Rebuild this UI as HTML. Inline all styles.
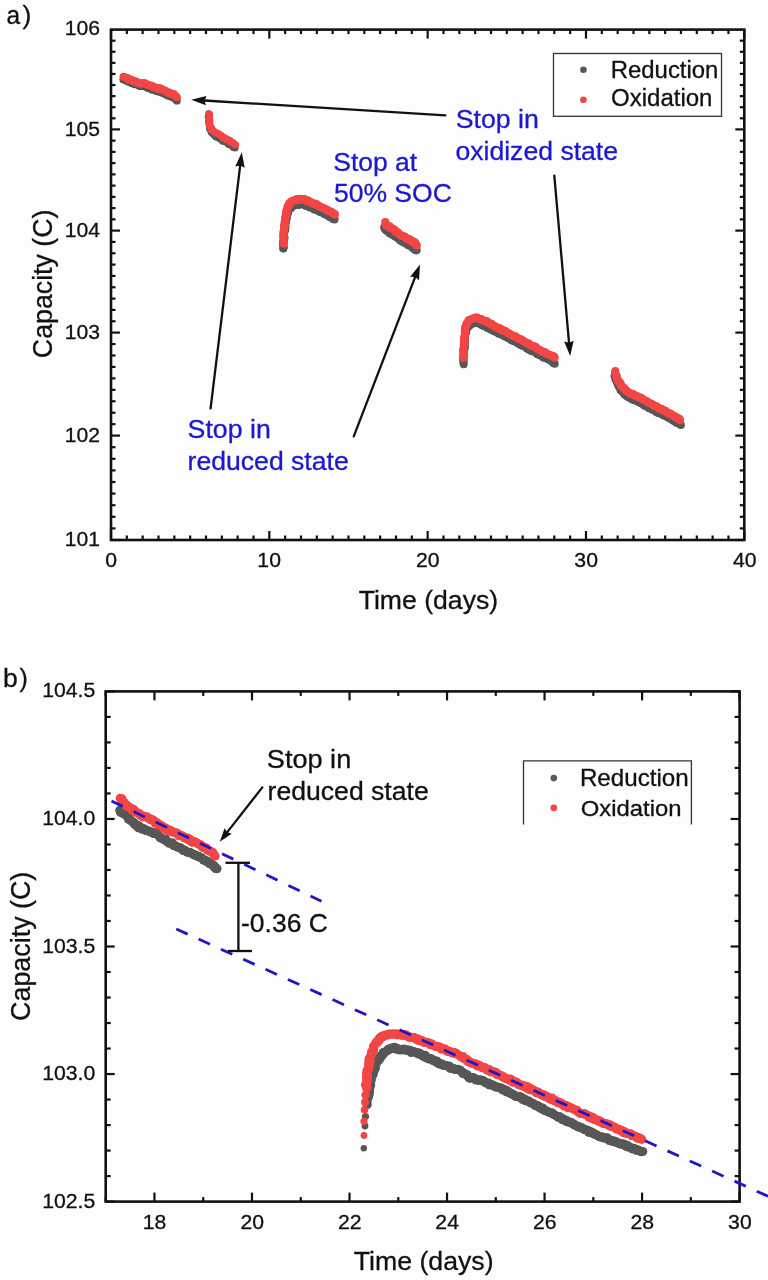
<!DOCTYPE html>
<html><head><meta charset="utf-8"><style>
html,body{margin:0;padding:0;background:#fdfdfd;}
svg{display:block;font-family:"Liberation Sans", sans-serif;filter:blur(0.35px);}
</style></head><body>
<svg width="768" height="1280" viewBox="0 0 768 1280">
<rect width="768" height="1280" fill="#fdfdfd"/>
<g stroke="#111" stroke-width="2.2"><line x1="111.00" y1="540.00" x2="111.00" y2="531.00"/><line x1="111.00" y1="29.60" x2="111.00" y2="38.60"/><line x1="126.83" y1="540.00" x2="126.83" y2="535.50"/><line x1="126.83" y1="29.60" x2="126.83" y2="34.10"/><line x1="142.66" y1="540.00" x2="142.66" y2="535.50"/><line x1="142.66" y1="29.60" x2="142.66" y2="34.10"/><line x1="158.50" y1="540.00" x2="158.50" y2="535.50"/><line x1="158.50" y1="29.60" x2="158.50" y2="34.10"/><line x1="174.33" y1="540.00" x2="174.33" y2="535.50"/><line x1="174.33" y1="29.60" x2="174.33" y2="34.10"/><line x1="190.16" y1="540.00" x2="190.16" y2="535.50"/><line x1="190.16" y1="29.60" x2="190.16" y2="34.10"/><line x1="206.00" y1="540.00" x2="206.00" y2="535.50"/><line x1="206.00" y1="29.60" x2="206.00" y2="34.10"/><line x1="221.83" y1="540.00" x2="221.83" y2="535.50"/><line x1="221.83" y1="29.60" x2="221.83" y2="34.10"/><line x1="237.66" y1="540.00" x2="237.66" y2="535.50"/><line x1="237.66" y1="29.60" x2="237.66" y2="34.10"/><line x1="253.49" y1="540.00" x2="253.49" y2="535.50"/><line x1="253.49" y1="29.60" x2="253.49" y2="34.10"/><line x1="269.32" y1="540.00" x2="269.32" y2="531.00"/><line x1="269.32" y1="29.60" x2="269.32" y2="38.60"/><line x1="285.16" y1="540.00" x2="285.16" y2="535.50"/><line x1="285.16" y1="29.60" x2="285.16" y2="34.10"/><line x1="300.99" y1="540.00" x2="300.99" y2="535.50"/><line x1="300.99" y1="29.60" x2="300.99" y2="34.10"/><line x1="316.82" y1="540.00" x2="316.82" y2="535.50"/><line x1="316.82" y1="29.60" x2="316.82" y2="34.10"/><line x1="332.65" y1="540.00" x2="332.65" y2="535.50"/><line x1="332.65" y1="29.60" x2="332.65" y2="34.10"/><line x1="348.49" y1="540.00" x2="348.49" y2="535.50"/><line x1="348.49" y1="29.60" x2="348.49" y2="34.10"/><line x1="364.32" y1="540.00" x2="364.32" y2="535.50"/><line x1="364.32" y1="29.60" x2="364.32" y2="34.10"/><line x1="380.15" y1="540.00" x2="380.15" y2="535.50"/><line x1="380.15" y1="29.60" x2="380.15" y2="34.10"/><line x1="395.99" y1="540.00" x2="395.99" y2="535.50"/><line x1="395.99" y1="29.60" x2="395.99" y2="34.10"/><line x1="411.82" y1="540.00" x2="411.82" y2="535.50"/><line x1="411.82" y1="29.60" x2="411.82" y2="34.10"/><line x1="427.65" y1="540.00" x2="427.65" y2="531.00"/><line x1="427.65" y1="29.60" x2="427.65" y2="38.60"/><line x1="443.48" y1="540.00" x2="443.48" y2="535.50"/><line x1="443.48" y1="29.60" x2="443.48" y2="34.10"/><line x1="459.31" y1="540.00" x2="459.31" y2="535.50"/><line x1="459.31" y1="29.60" x2="459.31" y2="34.10"/><line x1="475.15" y1="540.00" x2="475.15" y2="535.50"/><line x1="475.15" y1="29.60" x2="475.15" y2="34.10"/><line x1="490.98" y1="540.00" x2="490.98" y2="535.50"/><line x1="490.98" y1="29.60" x2="490.98" y2="34.10"/><line x1="506.81" y1="540.00" x2="506.81" y2="535.50"/><line x1="506.81" y1="29.60" x2="506.81" y2="34.10"/><line x1="522.64" y1="540.00" x2="522.64" y2="535.50"/><line x1="522.64" y1="29.60" x2="522.64" y2="34.10"/><line x1="538.48" y1="540.00" x2="538.48" y2="535.50"/><line x1="538.48" y1="29.60" x2="538.48" y2="34.10"/><line x1="554.31" y1="540.00" x2="554.31" y2="535.50"/><line x1="554.31" y1="29.60" x2="554.31" y2="34.10"/><line x1="570.14" y1="540.00" x2="570.14" y2="535.50"/><line x1="570.14" y1="29.60" x2="570.14" y2="34.10"/><line x1="585.98" y1="540.00" x2="585.98" y2="531.00"/><line x1="585.98" y1="29.60" x2="585.98" y2="38.60"/><line x1="601.81" y1="540.00" x2="601.81" y2="535.50"/><line x1="601.81" y1="29.60" x2="601.81" y2="34.10"/><line x1="617.64" y1="540.00" x2="617.64" y2="535.50"/><line x1="617.64" y1="29.60" x2="617.64" y2="34.10"/><line x1="633.47" y1="540.00" x2="633.47" y2="535.50"/><line x1="633.47" y1="29.60" x2="633.47" y2="34.10"/><line x1="649.30" y1="540.00" x2="649.30" y2="535.50"/><line x1="649.30" y1="29.60" x2="649.30" y2="34.10"/><line x1="665.14" y1="540.00" x2="665.14" y2="535.50"/><line x1="665.14" y1="29.60" x2="665.14" y2="34.10"/><line x1="680.97" y1="540.00" x2="680.97" y2="535.50"/><line x1="680.97" y1="29.60" x2="680.97" y2="34.10"/><line x1="696.80" y1="540.00" x2="696.80" y2="535.50"/><line x1="696.80" y1="29.60" x2="696.80" y2="34.10"/><line x1="712.63" y1="540.00" x2="712.63" y2="535.50"/><line x1="712.63" y1="29.60" x2="712.63" y2="34.10"/><line x1="728.47" y1="540.00" x2="728.47" y2="535.50"/><line x1="728.47" y1="29.60" x2="728.47" y2="34.10"/><line x1="744.30" y1="540.00" x2="744.30" y2="531.00"/><line x1="744.30" y1="29.60" x2="744.30" y2="38.60"/><line x1="111.00" y1="540.00" x2="120.00" y2="540.00"/><line x1="744.30" y1="540.00" x2="735.30" y2="540.00"/><line x1="111.00" y1="528.40" x2="115.50" y2="528.40"/><line x1="744.30" y1="528.40" x2="739.80" y2="528.40"/><line x1="111.00" y1="516.80" x2="115.50" y2="516.80"/><line x1="744.30" y1="516.80" x2="739.80" y2="516.80"/><line x1="111.00" y1="505.20" x2="115.50" y2="505.20"/><line x1="744.30" y1="505.20" x2="739.80" y2="505.20"/><line x1="111.00" y1="493.60" x2="115.50" y2="493.60"/><line x1="744.30" y1="493.60" x2="739.80" y2="493.60"/><line x1="111.00" y1="482.00" x2="115.50" y2="482.00"/><line x1="744.30" y1="482.00" x2="739.80" y2="482.00"/><line x1="111.00" y1="470.40" x2="115.50" y2="470.40"/><line x1="744.30" y1="470.40" x2="739.80" y2="470.40"/><line x1="111.00" y1="458.80" x2="115.50" y2="458.80"/><line x1="744.30" y1="458.80" x2="739.80" y2="458.80"/><line x1="111.00" y1="447.20" x2="115.50" y2="447.20"/><line x1="744.30" y1="447.20" x2="739.80" y2="447.20"/><line x1="111.00" y1="435.60" x2="120.00" y2="435.60"/><line x1="744.30" y1="435.60" x2="735.30" y2="435.60"/><line x1="111.00" y1="424.16" x2="115.50" y2="424.16"/><line x1="744.30" y1="424.16" x2="739.80" y2="424.16"/><line x1="111.00" y1="412.71" x2="115.50" y2="412.71"/><line x1="744.30" y1="412.71" x2="739.80" y2="412.71"/><line x1="111.00" y1="401.27" x2="115.50" y2="401.27"/><line x1="744.30" y1="401.27" x2="739.80" y2="401.27"/><line x1="111.00" y1="389.82" x2="115.50" y2="389.82"/><line x1="744.30" y1="389.82" x2="739.80" y2="389.82"/><line x1="111.00" y1="378.38" x2="115.50" y2="378.38"/><line x1="744.30" y1="378.38" x2="739.80" y2="378.38"/><line x1="111.00" y1="366.93" x2="115.50" y2="366.93"/><line x1="744.30" y1="366.93" x2="739.80" y2="366.93"/><line x1="111.00" y1="355.49" x2="115.50" y2="355.49"/><line x1="744.30" y1="355.49" x2="739.80" y2="355.49"/><line x1="111.00" y1="344.04" x2="115.50" y2="344.04"/><line x1="744.30" y1="344.04" x2="739.80" y2="344.04"/><line x1="111.00" y1="332.60" x2="120.00" y2="332.60"/><line x1="744.30" y1="332.60" x2="735.30" y2="332.60"/><line x1="111.00" y1="321.27" x2="115.50" y2="321.27"/><line x1="744.30" y1="321.27" x2="739.80" y2="321.27"/><line x1="111.00" y1="309.93" x2="115.50" y2="309.93"/><line x1="744.30" y1="309.93" x2="739.80" y2="309.93"/><line x1="111.00" y1="298.60" x2="115.50" y2="298.60"/><line x1="744.30" y1="298.60" x2="739.80" y2="298.60"/><line x1="111.00" y1="287.27" x2="115.50" y2="287.27"/><line x1="744.30" y1="287.27" x2="739.80" y2="287.27"/><line x1="111.00" y1="275.93" x2="115.50" y2="275.93"/><line x1="744.30" y1="275.93" x2="739.80" y2="275.93"/><line x1="111.00" y1="264.60" x2="115.50" y2="264.60"/><line x1="744.30" y1="264.60" x2="739.80" y2="264.60"/><line x1="111.00" y1="253.27" x2="115.50" y2="253.27"/><line x1="744.30" y1="253.27" x2="739.80" y2="253.27"/><line x1="111.00" y1="241.93" x2="115.50" y2="241.93"/><line x1="744.30" y1="241.93" x2="739.80" y2="241.93"/><line x1="111.00" y1="230.60" x2="120.00" y2="230.60"/><line x1="744.30" y1="230.60" x2="735.30" y2="230.60"/><line x1="111.00" y1="219.36" x2="115.50" y2="219.36"/><line x1="744.30" y1="219.36" x2="739.80" y2="219.36"/><line x1="111.00" y1="208.11" x2="115.50" y2="208.11"/><line x1="744.30" y1="208.11" x2="739.80" y2="208.11"/><line x1="111.00" y1="196.87" x2="115.50" y2="196.87"/><line x1="744.30" y1="196.87" x2="739.80" y2="196.87"/><line x1="111.00" y1="185.62" x2="115.50" y2="185.62"/><line x1="744.30" y1="185.62" x2="739.80" y2="185.62"/><line x1="111.00" y1="174.38" x2="115.50" y2="174.38"/><line x1="744.30" y1="174.38" x2="739.80" y2="174.38"/><line x1="111.00" y1="163.13" x2="115.50" y2="163.13"/><line x1="744.30" y1="163.13" x2="739.80" y2="163.13"/><line x1="111.00" y1="151.89" x2="115.50" y2="151.89"/><line x1="744.30" y1="151.89" x2="739.80" y2="151.89"/><line x1="111.00" y1="140.64" x2="115.50" y2="140.64"/><line x1="744.30" y1="140.64" x2="739.80" y2="140.64"/><line x1="111.00" y1="129.40" x2="120.00" y2="129.40"/><line x1="744.30" y1="129.40" x2="735.30" y2="129.40"/><line x1="111.00" y1="118.31" x2="115.50" y2="118.31"/><line x1="744.30" y1="118.31" x2="739.80" y2="118.31"/><line x1="111.00" y1="107.22" x2="115.50" y2="107.22"/><line x1="744.30" y1="107.22" x2="739.80" y2="107.22"/><line x1="111.00" y1="96.13" x2="115.50" y2="96.13"/><line x1="744.30" y1="96.13" x2="739.80" y2="96.13"/><line x1="111.00" y1="85.04" x2="115.50" y2="85.04"/><line x1="744.30" y1="85.04" x2="739.80" y2="85.04"/><line x1="111.00" y1="73.96" x2="115.50" y2="73.96"/><line x1="744.30" y1="73.96" x2="739.80" y2="73.96"/><line x1="111.00" y1="62.87" x2="115.50" y2="62.87"/><line x1="744.30" y1="62.87" x2="739.80" y2="62.87"/><line x1="111.00" y1="51.78" x2="115.50" y2="51.78"/><line x1="744.30" y1="51.78" x2="739.80" y2="51.78"/><line x1="111.00" y1="40.69" x2="115.50" y2="40.69"/><line x1="744.30" y1="40.69" x2="739.80" y2="40.69"/></g>
<rect x="111.0" y="29.6" width="633.3" height="510.4" fill="none" stroke="#111" stroke-width="2.6"/>
<text transform="translate(100.10,545.80) scale(1.0060,1)" font-size="21" text-anchor="end" fill="#111" stroke="#111" stroke-width="0.3">101</text>
<text transform="translate(100.10,442.40) scale(1.0060,1)" font-size="21" text-anchor="end" fill="#111" stroke="#111" stroke-width="0.3">102</text>
<text transform="translate(100.10,338.60) scale(1.0060,1)" font-size="21" text-anchor="end" fill="#111" stroke="#111" stroke-width="0.3">103</text>
<text transform="translate(100.10,236.90) scale(1.0060,1)" font-size="21" text-anchor="end" fill="#111" stroke="#111" stroke-width="0.3">104</text>
<text transform="translate(100.10,135.50) scale(1.0060,1)" font-size="21" text-anchor="end" fill="#111" stroke="#111" stroke-width="0.3">105</text>
<text transform="translate(100.10,34.90) scale(1.0060,1)" font-size="21" text-anchor="end" fill="#111" stroke="#111" stroke-width="0.3">106</text>
<text transform="translate(105.27,567.00) scale(1.0100,1)" font-size="21" fill="#111" stroke="#111" stroke-width="0.3">0</text>
<text transform="translate(257.34,567.00) scale(1.0100,1)" font-size="21" fill="#111" stroke="#111" stroke-width="0.3">10</text>
<text transform="translate(415.98,567.00) scale(1.0100,1)" font-size="21" fill="#111" stroke="#111" stroke-width="0.3">20</text>
<text transform="translate(574.37,567.00) scale(1.0100,1)" font-size="21" fill="#111" stroke="#111" stroke-width="0.3">30</text>
<text transform="translate(732.88,567.00) scale(1.0100,1)" font-size="21" fill="#111" stroke="#111" stroke-width="0.3">40</text>
<text transform="translate(358.67,608.90) scale(1.0049,1)" font-size="26.5" fill="#111" stroke="#111" stroke-width="0.3">Time (days)</text>
<text transform="translate(52.00,358.19) rotate(-90) scale(1.0099,1.045)" font-size="26.5" fill="#111" stroke="#111" stroke-width="0.3">Capacity (C)</text>
<text transform="translate(6.54,24.00) scale(0.9421,1)" font-size="26" fill="#111" stroke="#111" stroke-width="0.3">a</text>
<text transform="translate(22.54,24.00) scale(1.0222,1)" font-size="26" fill="#111" stroke="#111" stroke-width="0.3">)</text>
<g fill="#575757"><circle cx="123.3" cy="79.4" r="3.9"/><circle cx="125.2" cy="79.8" r="3.9"/><circle cx="126.5" cy="80.6" r="3.9"/><circle cx="127.5" cy="81.3" r="3.9"/><circle cx="128.7" cy="81.7" r="3.9"/><circle cx="130.0" cy="81.8" r="3.9"/><circle cx="131.7" cy="83.2" r="3.9"/><circle cx="132.5" cy="83.0" r="3.9"/><circle cx="134.4" cy="84.3" r="3.9"/><circle cx="135.5" cy="84.2" r="3.9"/><circle cx="137.2" cy="84.3" r="3.9"/><circle cx="138.2" cy="85.0" r="3.9"/><circle cx="138.6" cy="85.3" r="3.9"/><circle cx="140.1" cy="86.2" r="3.9"/><circle cx="141.3" cy="85.9" r="3.9"/><circle cx="143.2" cy="85.6" r="3.9"/><circle cx="144.3" cy="85.8" r="3.9"/><circle cx="145.0" cy="86.4" r="3.9"/><circle cx="147.0" cy="87.2" r="3.9"/><circle cx="147.8" cy="87.9" r="3.9"/><circle cx="149.1" cy="88.0" r="3.9"/><circle cx="150.8" cy="88.8" r="3.9"/><circle cx="151.3" cy="89.1" r="3.9"/><circle cx="152.8" cy="89.9" r="3.9"/><circle cx="154.3" cy="89.5" r="3.9"/><circle cx="155.8" cy="89.7" r="3.9"/><circle cx="156.3" cy="90.9" r="3.9"/><circle cx="157.2" cy="91.0" r="3.9"/><circle cx="158.2" cy="91.6" r="3.9"/><circle cx="160.3" cy="91.9" r="3.9"/><circle cx="161.7" cy="92.1" r="3.9"/><circle cx="162.7" cy="92.9" r="3.9"/><circle cx="163.8" cy="93.2" r="3.9"/><circle cx="165.4" cy="94.3" r="3.9"/><circle cx="166.2" cy="94.5" r="3.9"/><circle cx="167.0" cy="95.0" r="3.9"/><circle cx="168.9" cy="95.9" r="3.9"/><circle cx="170.4" cy="95.5" r="3.9"/><circle cx="171.0" cy="96.5" r="3.9"/><circle cx="171.7" cy="96.8" r="3.9"/><circle cx="173.0" cy="96.8" r="3.9"/><circle cx="174.0" cy="98.1" r="3.9"/><circle cx="175.3" cy="98.7" r="3.9"/><circle cx="176.9" cy="100.7" r="3.9"/></g>
<g fill="#575757"><circle cx="208.3" cy="116.9" r="3.6"/><circle cx="208.9" cy="118.7" r="3.6"/><circle cx="209.3" cy="119.9" r="3.6"/><circle cx="208.8" cy="120.6" r="3.6"/><circle cx="209.0" cy="122.3" r="3.6"/><circle cx="209.7" cy="122.7" r="3.6"/><circle cx="209.1" cy="124.1" r="3.6"/><circle cx="209.4" cy="125.8" r="3.6"/><circle cx="210.1" cy="126.9" r="3.6"/><circle cx="209.6" cy="128.4" r="3.6"/><circle cx="210.4" cy="129.7" r="3.6"/><circle cx="211.5" cy="131.0" r="3.6"/><circle cx="211.3" cy="132.1" r="3.6"/><circle cx="211.9" cy="132.6" r="3.6"/><circle cx="213.4" cy="134.3" r="3.6"/><circle cx="214.5" cy="135.2" r="3.6"/><circle cx="215.1" cy="135.6" r="3.6"/><circle cx="215.9" cy="136.8" r="3.6"/><circle cx="217.1" cy="136.8" r="3.6"/><circle cx="218.4" cy="137.6" r="3.6"/><circle cx="219.7" cy="138.2" r="3.6"/><circle cx="220.5" cy="139.0" r="3.6"/><circle cx="221.8" cy="139.9" r="3.6"/><circle cx="222.9" cy="141.2" r="3.6"/><circle cx="224.8" cy="141.1" r="3.6"/><circle cx="225.5" cy="142.0" r="3.6"/><circle cx="226.8" cy="142.4" r="3.6"/><circle cx="228.5" cy="144.2" r="3.6"/><circle cx="229.2" cy="144.3" r="3.6"/><circle cx="230.0" cy="144.5" r="3.6"/><circle cx="231.5" cy="145.4" r="3.6"/><circle cx="233.2" cy="145.9" r="3.6"/><circle cx="233.4" cy="147.5" r="3.6"/><circle cx="235.0" cy="147.9" r="3.6"/></g>
<g fill="#575757"><circle cx="283.3" cy="248.4" r="4.0"/><circle cx="283.3" cy="248.2" r="4.0"/><circle cx="283.8" cy="246.4" r="4.0"/><circle cx="283.2" cy="244.6" r="4.0"/><circle cx="283.1" cy="243.7" r="4.0"/><circle cx="283.6" cy="242.3" r="4.0"/><circle cx="283.5" cy="240.4" r="4.0"/><circle cx="284.2" cy="240.0" r="4.0"/><circle cx="284.3" cy="238.5" r="4.0"/><circle cx="284.4" cy="237.2" r="4.0"/><circle cx="283.8" cy="235.6" r="4.0"/><circle cx="284.1" cy="233.6" r="4.0"/><circle cx="283.8" cy="232.5" r="4.0"/><circle cx="284.2" cy="231.6" r="4.0"/><circle cx="285.2" cy="229.9" r="4.0"/><circle cx="285.3" cy="229.1" r="4.0"/><circle cx="285.5" cy="227.0" r="4.0"/><circle cx="284.7" cy="225.6" r="4.0"/><circle cx="284.9" cy="224.2" r="4.0"/><circle cx="285.5" cy="223.8" r="4.0"/><circle cx="285.9" cy="222.0" r="4.0"/><circle cx="285.9" cy="221.1" r="4.0"/><circle cx="285.5" cy="219.7" r="4.0"/><circle cx="286.7" cy="218.6" r="4.0"/><circle cx="286.8" cy="217.0" r="4.0"/><circle cx="286.4" cy="215.9" r="4.0"/><circle cx="287.0" cy="214.6" r="4.0"/><circle cx="288.1" cy="212.7" r="4.0"/><circle cx="288.0" cy="211.9" r="4.0"/><circle cx="289.1" cy="209.5" r="4.0"/><circle cx="289.1" cy="208.1" r="4.0"/><circle cx="291.2" cy="207.9" r="4.0"/><circle cx="291.4" cy="206.9" r="4.0"/><circle cx="293.6" cy="205.7" r="4.0"/><circle cx="294.2" cy="205.2" r="4.0"/><circle cx="295.2" cy="204.3" r="4.0"/><circle cx="297.6" cy="204.7" r="4.0"/><circle cx="298.4" cy="204.9" r="4.0"/><circle cx="299.6" cy="204.6" r="4.0"/><circle cx="301.4" cy="203.7" r="4.0"/><circle cx="302.0" cy="203.7" r="4.0"/><circle cx="303.3" cy="204.5" r="4.0"/><circle cx="304.7" cy="204.8" r="4.0"/><circle cx="305.9" cy="206.0" r="4.0"/><circle cx="307.5" cy="205.9" r="4.0"/><circle cx="309.1" cy="207.0" r="4.0"/><circle cx="310.1" cy="207.5" r="4.0"/><circle cx="311.3" cy="207.6" r="4.0"/><circle cx="312.5" cy="207.5" r="4.0"/><circle cx="313.6" cy="208.2" r="4.0"/><circle cx="314.2" cy="209.4" r="4.0"/><circle cx="315.6" cy="209.6" r="4.0"/><circle cx="317.4" cy="210.2" r="4.0"/><circle cx="318.1" cy="210.8" r="4.0"/><circle cx="319.6" cy="211.6" r="4.0"/><circle cx="320.2" cy="211.9" r="4.0"/><circle cx="321.5" cy="212.2" r="4.0"/><circle cx="323.3" cy="213.0" r="4.0"/><circle cx="324.2" cy="213.9" r="4.0"/><circle cx="325.7" cy="214.1" r="4.0"/><circle cx="326.5" cy="214.8" r="4.0"/><circle cx="327.5" cy="215.6" r="4.0"/><circle cx="328.5" cy="216.0" r="4.0"/><circle cx="329.7" cy="217.1" r="4.0"/><circle cx="331.0" cy="217.6" r="4.0"/><circle cx="332.4" cy="217.5" r="4.0"/><circle cx="333.0" cy="218.9" r="4.0"/><circle cx="334.3" cy="218.5" r="4.0"/><circle cx="334.5" cy="219.4" r="4.0"/></g>
<g fill="#575757"><circle cx="384.3" cy="227.4" r="4.1"/><circle cx="384.9" cy="229.0" r="4.1"/><circle cx="386.3" cy="230.3" r="4.1"/><circle cx="386.6" cy="230.8" r="4.1"/><circle cx="388.2" cy="230.9" r="4.1"/><circle cx="389.5" cy="232.6" r="4.1"/><circle cx="389.8" cy="233.4" r="4.1"/><circle cx="391.1" cy="233.6" r="4.1"/><circle cx="392.9" cy="234.8" r="4.1"/><circle cx="393.0" cy="235.1" r="4.1"/><circle cx="394.5" cy="235.7" r="4.1"/><circle cx="395.2" cy="236.4" r="4.1"/><circle cx="396.9" cy="236.7" r="4.1"/><circle cx="397.8" cy="237.9" r="4.1"/><circle cx="398.3" cy="238.5" r="4.1"/><circle cx="400.1" cy="239.4" r="4.1"/><circle cx="400.5" cy="240.7" r="4.1"/><circle cx="402.4" cy="241.3" r="4.1"/><circle cx="402.7" cy="241.1" r="4.1"/><circle cx="403.7" cy="242.4" r="4.1"/><circle cx="405.1" cy="242.3" r="4.1"/><circle cx="406.4" cy="243.8" r="4.1"/><circle cx="408.0" cy="243.7" r="4.1"/><circle cx="408.2" cy="245.2" r="4.1"/><circle cx="409.8" cy="245.5" r="4.1"/><circle cx="410.3" cy="245.4" r="4.1"/><circle cx="412.1" cy="246.5" r="4.1"/><circle cx="412.4" cy="247.8" r="4.1"/><circle cx="414.2" cy="248.3" r="4.1"/><circle cx="414.4" cy="249.2" r="4.1"/><circle cx="415.3" cy="250.1" r="4.1"/><circle cx="416.6" cy="250.3" r="4.1"/></g>
<g fill="#575757"><circle cx="463.7" cy="364.2" r="4.0"/><circle cx="463.3" cy="361.9" r="4.0"/><circle cx="463.7" cy="360.6" r="4.0"/><circle cx="463.2" cy="359.2" r="4.0"/><circle cx="463.2" cy="357.8" r="4.0"/><circle cx="463.5" cy="356.7" r="4.0"/><circle cx="464.1" cy="355.4" r="4.0"/><circle cx="463.9" cy="354.1" r="4.0"/><circle cx="463.7" cy="352.6" r="4.0"/><circle cx="463.7" cy="351.3" r="4.0"/><circle cx="464.3" cy="350.6" r="4.0"/><circle cx="463.8" cy="349.2" r="4.0"/><circle cx="464.8" cy="347.4" r="4.0"/><circle cx="464.7" cy="346.5" r="4.0"/><circle cx="464.4" cy="345.6" r="4.0"/><circle cx="464.4" cy="343.8" r="4.0"/><circle cx="464.9" cy="343.0" r="4.0"/><circle cx="464.6" cy="341.4" r="4.0"/><circle cx="465.1" cy="339.8" r="4.0"/><circle cx="464.9" cy="338.0" r="4.0"/><circle cx="464.6" cy="336.6" r="4.0"/><circle cx="464.8" cy="336.1" r="4.0"/><circle cx="465.2" cy="334.2" r="4.0"/><circle cx="465.1" cy="333.8" r="4.0"/><circle cx="466.2" cy="332.4" r="4.0"/><circle cx="466.0" cy="330.4" r="4.0"/><circle cx="466.6" cy="329.2" r="4.0"/><circle cx="466.9" cy="327.6" r="4.0"/><circle cx="467.8" cy="327.3" r="4.0"/><circle cx="469.5" cy="325.8" r="4.0"/><circle cx="469.5" cy="325.3" r="4.0"/><circle cx="470.8" cy="324.0" r="4.0"/><circle cx="471.7" cy="323.6" r="4.0"/><circle cx="473.5" cy="323.2" r="4.0"/><circle cx="474.5" cy="323.2" r="4.0"/><circle cx="475.6" cy="322.9" r="4.0"/><circle cx="477.0" cy="323.1" r="4.0"/><circle cx="478.1" cy="323.1" r="4.0"/><circle cx="479.5" cy="323.8" r="4.0"/><circle cx="481.0" cy="324.6" r="4.0"/><circle cx="482.3" cy="325.2" r="4.0"/><circle cx="483.5" cy="326.0" r="4.0"/><circle cx="484.3" cy="325.9" r="4.0"/><circle cx="486.2" cy="326.2" r="4.0"/><circle cx="487.1" cy="327.3" r="4.0"/><circle cx="487.5" cy="328.1" r="4.0"/><circle cx="489.6" cy="328.4" r="4.0"/><circle cx="490.5" cy="329.2" r="4.0"/><circle cx="490.9" cy="329.4" r="4.0"/><circle cx="492.4" cy="330.3" r="4.0"/><circle cx="493.9" cy="330.9" r="4.0"/><circle cx="494.8" cy="331.5" r="4.0"/><circle cx="496.0" cy="331.8" r="4.0"/><circle cx="496.6" cy="331.6" r="4.0"/><circle cx="497.6" cy="332.5" r="4.0"/><circle cx="498.7" cy="333.7" r="4.0"/><circle cx="500.4" cy="334.1" r="4.0"/><circle cx="501.7" cy="334.8" r="4.0"/><circle cx="502.7" cy="334.5" r="4.0"/><circle cx="504.2" cy="336.1" r="4.0"/><circle cx="505.0" cy="336.4" r="4.0"/><circle cx="506.4" cy="336.5" r="4.0"/><circle cx="507.6" cy="337.3" r="4.0"/><circle cx="508.0" cy="337.9" r="4.0"/><circle cx="509.9" cy="338.4" r="4.0"/><circle cx="511.0" cy="340.0" r="4.0"/><circle cx="511.8" cy="339.9" r="4.0"/><circle cx="512.9" cy="340.8" r="4.0"/><circle cx="514.3" cy="341.3" r="4.0"/><circle cx="515.3" cy="341.3" r="4.0"/><circle cx="515.8" cy="342.1" r="4.0"/><circle cx="517.6" cy="342.8" r="4.0"/><circle cx="518.5" cy="343.0" r="4.0"/><circle cx="519.0" cy="343.9" r="4.0"/><circle cx="520.9" cy="345.0" r="4.0"/><circle cx="522.0" cy="345.2" r="4.0"/><circle cx="523.0" cy="346.0" r="4.0"/><circle cx="524.1" cy="346.2" r="4.0"/><circle cx="525.8" cy="346.9" r="4.0"/><circle cx="527.1" cy="348.4" r="4.0"/><circle cx="527.1" cy="348.4" r="4.0"/><circle cx="529.2" cy="349.7" r="4.0"/><circle cx="529.9" cy="349.4" r="4.0"/><circle cx="530.8" cy="350.8" r="4.0"/><circle cx="531.9" cy="351.0" r="4.0"/><circle cx="532.9" cy="351.5" r="4.0"/><circle cx="534.9" cy="351.6" r="4.0"/><circle cx="535.9" cy="352.7" r="4.0"/><circle cx="537.1" cy="353.5" r="4.0"/><circle cx="537.4" cy="354.3" r="4.0"/><circle cx="538.8" cy="353.8" r="4.0"/><circle cx="539.3" cy="355.0" r="4.0"/><circle cx="540.9" cy="355.4" r="4.0"/><circle cx="541.7" cy="356.0" r="4.0"/><circle cx="543.1" cy="357.2" r="4.0"/><circle cx="543.8" cy="357.7" r="4.0"/><circle cx="546.0" cy="357.5" r="4.0"/><circle cx="547.2" cy="358.8" r="4.0"/><circle cx="548.3" cy="358.9" r="4.0"/><circle cx="548.8" cy="359.6" r="4.0"/><circle cx="550.8" cy="360.5" r="4.0"/><circle cx="551.2" cy="361.0" r="4.0"/><circle cx="552.3" cy="361.3" r="4.0"/><circle cx="553.3" cy="362.9" r="4.0"/><circle cx="554.7" cy="363.7" r="4.0"/></g>
<g fill="#575757"><circle cx="614.5" cy="375.7" r="4.0"/><circle cx="615.2" cy="376.8" r="4.0"/><circle cx="615.4" cy="379.0" r="4.0"/><circle cx="616.5" cy="380.0" r="4.0"/><circle cx="616.6" cy="381.4" r="4.0"/><circle cx="617.3" cy="382.1" r="4.0"/><circle cx="617.5" cy="382.7" r="4.0"/><circle cx="617.9" cy="384.4" r="4.0"/><circle cx="618.6" cy="385.8" r="4.0"/><circle cx="618.6" cy="386.1" r="4.0"/><circle cx="620.1" cy="387.3" r="4.0"/><circle cx="620.2" cy="388.6" r="4.0"/><circle cx="620.6" cy="390.2" r="4.0"/><circle cx="622.1" cy="390.7" r="4.0"/><circle cx="622.6" cy="391.6" r="4.0"/><circle cx="623.3" cy="392.5" r="4.0"/><circle cx="623.8" cy="393.1" r="4.0"/><circle cx="624.7" cy="394.8" r="4.0"/><circle cx="625.9" cy="394.8" r="4.0"/><circle cx="627.3" cy="396.5" r="4.0"/><circle cx="627.7" cy="396.3" r="4.0"/><circle cx="628.2" cy="397.1" r="4.0"/><circle cx="629.6" cy="397.6" r="4.0"/><circle cx="630.6" cy="398.3" r="4.0"/><circle cx="632.2" cy="399.6" r="4.0"/><circle cx="633.5" cy="399.5" r="4.0"/><circle cx="634.3" cy="400.1" r="4.0"/><circle cx="635.4" cy="400.4" r="4.0"/><circle cx="636.2" cy="400.8" r="4.0"/><circle cx="638.4" cy="401.2" r="4.0"/><circle cx="639.0" cy="402.3" r="4.0"/><circle cx="640.5" cy="402.4" r="4.0"/><circle cx="640.9" cy="403.0" r="4.0"/><circle cx="642.1" cy="403.8" r="4.0"/><circle cx="643.9" cy="404.9" r="4.0"/><circle cx="644.9" cy="404.5" r="4.0"/><circle cx="644.9" cy="406.0" r="4.0"/><circle cx="647.1" cy="406.3" r="4.0"/><circle cx="647.8" cy="406.3" r="4.0"/><circle cx="648.6" cy="408.0" r="4.0"/><circle cx="650.2" cy="408.5" r="4.0"/><circle cx="651.5" cy="408.4" r="4.0"/><circle cx="651.5" cy="408.9" r="4.0"/><circle cx="653.1" cy="410.1" r="4.0"/><circle cx="654.7" cy="410.6" r="4.0"/><circle cx="655.5" cy="411.2" r="4.0"/><circle cx="656.3" cy="411.5" r="4.0"/><circle cx="656.9" cy="412.3" r="4.0"/><circle cx="658.2" cy="413.1" r="4.0"/><circle cx="659.8" cy="412.9" r="4.0"/><circle cx="660.3" cy="413.3" r="4.0"/><circle cx="662.0" cy="414.4" r="4.0"/><circle cx="662.5" cy="414.2" r="4.0"/><circle cx="664.0" cy="415.4" r="4.0"/><circle cx="665.0" cy="415.5" r="4.0"/><circle cx="666.3" cy="415.8" r="4.0"/><circle cx="667.1" cy="417.0" r="4.0"/><circle cx="669.0" cy="417.9" r="4.0"/><circle cx="670.0" cy="418.3" r="4.0"/><circle cx="670.3" cy="418.7" r="4.0"/><circle cx="672.3" cy="419.9" r="4.0"/><circle cx="672.6" cy="419.7" r="4.0"/><circle cx="673.9" cy="421.1" r="4.0"/><circle cx="674.9" cy="421.2" r="4.0"/><circle cx="676.3" cy="422.7" r="4.0"/><circle cx="676.9" cy="422.2" r="4.0"/><circle cx="678.1" cy="423.3" r="4.0"/><circle cx="679.6" cy="423.7" r="4.0"/><circle cx="680.9" cy="425.0" r="4.0"/></g>
<g fill="#f24646"><circle cx="123.5" cy="76.6" r="3.9"/><circle cx="125.6" cy="77.3" r="3.9"/><circle cx="126.9" cy="77.7" r="3.9"/><circle cx="127.7" cy="78.8" r="3.9"/><circle cx="129.0" cy="79.5" r="3.9"/><circle cx="130.5" cy="79.1" r="3.9"/><circle cx="131.4" cy="79.9" r="3.9"/><circle cx="133.2" cy="81.0" r="3.9"/><circle cx="133.8" cy="80.9" r="3.9"/><circle cx="135.1" cy="82.1" r="3.9"/><circle cx="136.2" cy="81.5" r="3.9"/><circle cx="137.3" cy="82.4" r="3.9"/><circle cx="139.5" cy="83.5" r="3.9"/><circle cx="140.6" cy="83.6" r="3.9"/><circle cx="142.2" cy="82.8" r="3.9"/><circle cx="142.6" cy="83.5" r="3.9"/><circle cx="144.5" cy="82.9" r="3.9"/><circle cx="145.7" cy="83.9" r="3.9"/><circle cx="146.6" cy="84.3" r="3.9"/><circle cx="147.6" cy="84.4" r="3.9"/><circle cx="148.9" cy="85.2" r="3.9"/><circle cx="150.9" cy="85.3" r="3.9"/><circle cx="152.2" cy="85.8" r="3.9"/><circle cx="152.6" cy="87.0" r="3.9"/><circle cx="154.4" cy="86.9" r="3.9"/><circle cx="154.7" cy="87.4" r="3.9"/><circle cx="156.2" cy="88.3" r="3.9"/><circle cx="157.2" cy="88.0" r="3.9"/><circle cx="159.3" cy="88.0" r="3.9"/><circle cx="159.9" cy="89.4" r="3.9"/><circle cx="161.6" cy="88.9" r="3.9"/><circle cx="161.9" cy="89.5" r="3.9"/><circle cx="164.3" cy="90.2" r="3.9"/><circle cx="165.3" cy="91.5" r="3.9"/><circle cx="166.1" cy="91.2" r="3.9"/><circle cx="168.0" cy="92.1" r="3.9"/><circle cx="168.5" cy="92.8" r="3.9"/><circle cx="169.8" cy="92.7" r="3.9"/><circle cx="170.5" cy="93.8" r="3.9"/><circle cx="172.7" cy="94.2" r="3.9"/><circle cx="173.9" cy="93.9" r="3.9"/><circle cx="174.2" cy="95.0" r="3.9"/><circle cx="176.3" cy="96.8" r="3.9"/><circle cx="176.9" cy="97.2" r="3.9"/></g>
<g fill="#f24646"><circle cx="208.7" cy="113.5" r="3.6"/><circle cx="209.4" cy="114.3" r="3.6"/><circle cx="209.3" cy="116.2" r="3.6"/><circle cx="209.4" cy="117.5" r="3.6"/><circle cx="209.2" cy="118.2" r="3.6"/><circle cx="209.0" cy="119.4" r="3.6"/><circle cx="209.8" cy="120.4" r="3.6"/><circle cx="209.3" cy="122.6" r="3.6"/><circle cx="209.6" cy="123.1" r="3.6"/><circle cx="209.6" cy="125.1" r="3.6"/><circle cx="210.4" cy="126.7" r="3.6"/><circle cx="211.4" cy="127.9" r="3.6"/><circle cx="211.0" cy="128.0" r="3.6"/><circle cx="211.2" cy="129.6" r="3.6"/><circle cx="213.1" cy="130.4" r="3.6"/><circle cx="213.7" cy="131.3" r="3.6"/><circle cx="215.4" cy="132.4" r="3.6"/><circle cx="216.7" cy="133.5" r="3.6"/><circle cx="217.8" cy="133.3" r="3.6"/><circle cx="219.2" cy="134.3" r="3.6"/><circle cx="220.0" cy="135.0" r="3.6"/><circle cx="221.4" cy="135.5" r="3.6"/><circle cx="222.0" cy="136.3" r="3.6"/><circle cx="223.0" cy="137.8" r="3.6"/><circle cx="224.7" cy="137.8" r="3.6"/><circle cx="225.7" cy="139.3" r="3.6"/><circle cx="226.9" cy="139.1" r="3.6"/><circle cx="228.5" cy="140.3" r="3.6"/><circle cx="229.9" cy="140.3" r="3.6"/><circle cx="230.4" cy="141.8" r="3.6"/><circle cx="232.0" cy="142.6" r="3.6"/><circle cx="232.3" cy="142.6" r="3.6"/><circle cx="233.5" cy="143.1" r="3.6"/><circle cx="235.6" cy="144.9" r="3.6"/></g>
<g fill="#f24646"><circle cx="283.7" cy="243.8" r="4.0"/><circle cx="283.7" cy="242.5" r="4.0"/><circle cx="283.1" cy="241.5" r="4.0"/><circle cx="284.0" cy="239.3" r="4.0"/><circle cx="283.6" cy="238.5" r="4.0"/><circle cx="283.3" cy="236.8" r="4.0"/><circle cx="283.3" cy="235.4" r="4.0"/><circle cx="283.5" cy="234.6" r="4.0"/><circle cx="284.1" cy="232.8" r="4.0"/><circle cx="283.4" cy="231.7" r="4.0"/><circle cx="284.3" cy="230.2" r="4.0"/><circle cx="284.0" cy="228.8" r="4.0"/><circle cx="284.7" cy="227.8" r="4.0"/><circle cx="284.0" cy="225.9" r="4.0"/><circle cx="284.5" cy="225.0" r="4.0"/><circle cx="285.0" cy="223.0" r="4.0"/><circle cx="284.5" cy="222.4" r="4.0"/><circle cx="285.0" cy="220.6" r="4.0"/><circle cx="285.0" cy="220.1" r="4.0"/><circle cx="285.1" cy="218.4" r="4.0"/><circle cx="285.3" cy="216.9" r="4.0"/><circle cx="286.2" cy="216.3" r="4.0"/><circle cx="285.8" cy="214.1" r="4.0"/><circle cx="286.5" cy="212.9" r="4.0"/><circle cx="285.9" cy="212.5" r="4.0"/><circle cx="286.7" cy="211.0" r="4.0"/><circle cx="287.1" cy="209.7" r="4.0"/><circle cx="287.5" cy="207.4" r="4.0"/><circle cx="287.6" cy="206.4" r="4.0"/><circle cx="289.0" cy="205.4" r="4.0"/><circle cx="289.0" cy="203.6" r="4.0"/><circle cx="290.5" cy="202.5" r="4.0"/><circle cx="291.4" cy="201.2" r="4.0"/><circle cx="293.0" cy="201.0" r="4.0"/><circle cx="293.9" cy="200.2" r="4.0"/><circle cx="296.0" cy="200.4" r="4.0"/><circle cx="296.6" cy="199.1" r="4.0"/><circle cx="298.9" cy="199.9" r="4.0"/><circle cx="299.6" cy="198.7" r="4.0"/><circle cx="301.5" cy="198.9" r="4.0"/><circle cx="302.8" cy="199.0" r="4.0"/><circle cx="304.0" cy="199.0" r="4.0"/><circle cx="305.3" cy="199.6" r="4.0"/><circle cx="306.2" cy="200.9" r="4.0"/><circle cx="308.1" cy="200.6" r="4.0"/><circle cx="308.7" cy="201.4" r="4.0"/><circle cx="310.2" cy="201.9" r="4.0"/><circle cx="310.9" cy="202.2" r="4.0"/><circle cx="312.8" cy="203.5" r="4.0"/><circle cx="313.1" cy="203.6" r="4.0"/><circle cx="315.1" cy="203.5" r="4.0"/><circle cx="316.4" cy="204.1" r="4.0"/><circle cx="317.3" cy="205.2" r="4.0"/><circle cx="318.5" cy="205.5" r="4.0"/><circle cx="319.4" cy="206.4" r="4.0"/><circle cx="320.6" cy="207.1" r="4.0"/><circle cx="321.8" cy="207.4" r="4.0"/><circle cx="322.4" cy="208.1" r="4.0"/><circle cx="324.1" cy="208.3" r="4.0"/><circle cx="325.5" cy="209.5" r="4.0"/><circle cx="326.3" cy="209.4" r="4.0"/><circle cx="327.4" cy="209.9" r="4.0"/><circle cx="328.1" cy="210.9" r="4.0"/><circle cx="329.2" cy="211.5" r="4.0"/><circle cx="330.8" cy="211.6" r="4.0"/><circle cx="332.0" cy="212.3" r="4.0"/><circle cx="333.2" cy="213.7" r="4.0"/><circle cx="334.0" cy="213.4" r="4.0"/><circle cx="335.0" cy="214.4" r="4.0"/></g>
<g fill="#f24646"><circle cx="385.3" cy="222.0" r="4.1"/><circle cx="385.8" cy="224.0" r="4.1"/><circle cx="386.3" cy="224.9" r="4.1"/><circle cx="386.6" cy="225.8" r="4.1"/><circle cx="388.0" cy="226.5" r="4.1"/><circle cx="389.6" cy="226.4" r="4.1"/><circle cx="390.5" cy="228.1" r="4.1"/><circle cx="390.7" cy="228.1" r="4.1"/><circle cx="392.6" cy="228.7" r="4.1"/><circle cx="393.9" cy="229.6" r="4.1"/><circle cx="394.9" cy="230.2" r="4.1"/><circle cx="395.6" cy="231.8" r="4.1"/><circle cx="396.3" cy="231.7" r="4.1"/><circle cx="397.8" cy="232.5" r="4.1"/><circle cx="398.3" cy="233.0" r="4.1"/><circle cx="399.5" cy="234.6" r="4.1"/><circle cx="401.2" cy="235.3" r="4.1"/><circle cx="401.7" cy="235.8" r="4.1"/><circle cx="402.7" cy="236.1" r="4.1"/><circle cx="404.5" cy="236.6" r="4.1"/><circle cx="405.8" cy="237.5" r="4.1"/><circle cx="406.6" cy="238.5" r="4.1"/><circle cx="407.1" cy="239.3" r="4.1"/><circle cx="408.8" cy="239.2" r="4.1"/><circle cx="410.1" cy="239.7" r="4.1"/><circle cx="411.4" cy="240.7" r="4.1"/><circle cx="411.7" cy="241.6" r="4.1"/><circle cx="412.9" cy="241.6" r="4.1"/><circle cx="414.3" cy="242.1" r="4.1"/><circle cx="415.3" cy="243.2" r="4.1"/><circle cx="416.0" cy="244.9" r="4.1"/><circle cx="416.8" cy="245.4" r="4.1"/></g>
<g fill="#f24646"><circle cx="463.4" cy="357.9" r="4.0"/><circle cx="463.1" cy="356.7" r="4.0"/><circle cx="463.8" cy="355.7" r="4.0"/><circle cx="463.7" cy="354.8" r="4.0"/><circle cx="463.3" cy="352.7" r="4.0"/><circle cx="463.9" cy="351.2" r="4.0"/><circle cx="463.2" cy="350.3" r="4.0"/><circle cx="463.4" cy="349.1" r="4.0"/><circle cx="463.6" cy="348.1" r="4.0"/><circle cx="464.1" cy="346.3" r="4.0"/><circle cx="464.2" cy="345.3" r="4.0"/><circle cx="463.7" cy="344.5" r="4.0"/><circle cx="463.9" cy="342.2" r="4.0"/><circle cx="463.8" cy="341.5" r="4.0"/><circle cx="464.8" cy="340.3" r="4.0"/><circle cx="464.4" cy="338.3" r="4.0"/><circle cx="464.1" cy="337.4" r="4.0"/><circle cx="464.8" cy="335.6" r="4.0"/><circle cx="465.1" cy="334.3" r="4.0"/><circle cx="465.5" cy="333.3" r="4.0"/><circle cx="464.9" cy="332.3" r="4.0"/><circle cx="464.8" cy="330.6" r="4.0"/><circle cx="465.4" cy="329.1" r="4.0"/><circle cx="465.1" cy="328.5" r="4.0"/><circle cx="465.2" cy="327.1" r="4.0"/><circle cx="466.8" cy="325.1" r="4.0"/><circle cx="466.4" cy="324.1" r="4.0"/><circle cx="467.3" cy="322.7" r="4.0"/><circle cx="468.5" cy="321.1" r="4.0"/><circle cx="468.7" cy="320.3" r="4.0"/><circle cx="469.3" cy="320.0" r="4.0"/><circle cx="471.4" cy="319.3" r="4.0"/><circle cx="471.7" cy="318.9" r="4.0"/><circle cx="473.8" cy="318.0" r="4.0"/><circle cx="475.1" cy="317.9" r="4.0"/><circle cx="475.8" cy="317.5" r="4.0"/><circle cx="477.2" cy="317.4" r="4.0"/><circle cx="478.4" cy="318.7" r="4.0"/><circle cx="480.0" cy="319.3" r="4.0"/><circle cx="481.1" cy="319.1" r="4.0"/><circle cx="482.1" cy="319.7" r="4.0"/><circle cx="483.5" cy="320.4" r="4.0"/><circle cx="484.1" cy="321.1" r="4.0"/><circle cx="486.2" cy="321.1" r="4.0"/><circle cx="487.3" cy="321.4" r="4.0"/><circle cx="487.7" cy="322.2" r="4.0"/><circle cx="489.4" cy="323.6" r="4.0"/><circle cx="490.5" cy="323.4" r="4.0"/><circle cx="491.8" cy="324.0" r="4.0"/><circle cx="492.1" cy="325.2" r="4.0"/><circle cx="493.7" cy="325.5" r="4.0"/><circle cx="494.9" cy="326.4" r="4.0"/><circle cx="495.7" cy="326.8" r="4.0"/><circle cx="497.1" cy="327.4" r="4.0"/><circle cx="497.9" cy="327.8" r="4.0"/><circle cx="499.3" cy="327.9" r="4.0"/><circle cx="500.0" cy="328.9" r="4.0"/><circle cx="501.0" cy="329.8" r="4.0"/><circle cx="502.2" cy="329.4" r="4.0"/><circle cx="503.4" cy="331.1" r="4.0"/><circle cx="504.8" cy="330.7" r="4.0"/><circle cx="505.6" cy="331.2" r="4.0"/><circle cx="507.6" cy="332.5" r="4.0"/><circle cx="508.7" cy="333.3" r="4.0"/><circle cx="509.1" cy="333.7" r="4.0"/><circle cx="510.5" cy="334.6" r="4.0"/><circle cx="512.2" cy="335.3" r="4.0"/><circle cx="512.4" cy="335.8" r="4.0"/><circle cx="514.5" cy="336.5" r="4.0"/><circle cx="514.6" cy="336.2" r="4.0"/><circle cx="515.7" cy="336.6" r="4.0"/><circle cx="517.7" cy="338.2" r="4.0"/><circle cx="518.6" cy="338.8" r="4.0"/><circle cx="519.7" cy="338.7" r="4.0"/><circle cx="520.2" cy="339.1" r="4.0"/><circle cx="522.1" cy="339.9" r="4.0"/><circle cx="522.8" cy="340.7" r="4.0"/><circle cx="523.6" cy="341.2" r="4.0"/><circle cx="525.1" cy="342.3" r="4.0"/><circle cx="526.3" cy="342.5" r="4.0"/><circle cx="528.2" cy="343.3" r="4.0"/><circle cx="529.3" cy="344.0" r="4.0"/><circle cx="529.4" cy="344.4" r="4.0"/><circle cx="531.0" cy="345.4" r="4.0"/><circle cx="532.0" cy="345.9" r="4.0"/><circle cx="533.3" cy="345.9" r="4.0"/><circle cx="534.8" cy="346.4" r="4.0"/><circle cx="535.9" cy="347.1" r="4.0"/><circle cx="536.0" cy="347.7" r="4.0"/><circle cx="538.0" cy="349.2" r="4.0"/><circle cx="538.2" cy="349.2" r="4.0"/><circle cx="539.9" cy="350.2" r="4.0"/><circle cx="540.6" cy="350.4" r="4.0"/><circle cx="542.0" cy="351.4" r="4.0"/><circle cx="543.0" cy="352.1" r="4.0"/><circle cx="544.2" cy="351.8" r="4.0"/><circle cx="545.8" cy="352.7" r="4.0"/><circle cx="546.2" cy="353.5" r="4.0"/><circle cx="547.4" cy="354.3" r="4.0"/><circle cx="549.2" cy="354.8" r="4.0"/><circle cx="550.4" cy="355.0" r="4.0"/><circle cx="551.3" cy="355.8" r="4.0"/><circle cx="553.1" cy="356.1" r="4.0"/><circle cx="554.3" cy="356.7" r="4.0"/><circle cx="554.6" cy="357.7" r="4.0"/></g>
<g fill="#f24646"><circle cx="615.3" cy="371.0" r="4.0"/><circle cx="615.1" cy="372.7" r="4.0"/><circle cx="615.3" cy="373.4" r="4.0"/><circle cx="616.0" cy="374.9" r="4.0"/><circle cx="616.7" cy="376.0" r="4.0"/><circle cx="616.6" cy="376.9" r="4.0"/><circle cx="616.8" cy="378.7" r="4.0"/><circle cx="617.8" cy="379.8" r="4.0"/><circle cx="617.9" cy="380.5" r="4.0"/><circle cx="619.2" cy="381.8" r="4.0"/><circle cx="619.1" cy="382.7" r="4.0"/><circle cx="620.7" cy="383.5" r="4.0"/><circle cx="620.5" cy="384.7" r="4.0"/><circle cx="621.7" cy="386.4" r="4.0"/><circle cx="622.0" cy="386.4" r="4.0"/><circle cx="623.0" cy="387.4" r="4.0"/><circle cx="624.2" cy="388.1" r="4.0"/><circle cx="624.8" cy="388.9" r="4.0"/><circle cx="626.5" cy="390.4" r="4.0"/><circle cx="626.3" cy="391.5" r="4.0"/><circle cx="627.2" cy="391.6" r="4.0"/><circle cx="629.2" cy="393.0" r="4.0"/><circle cx="630.0" cy="393.0" r="4.0"/><circle cx="630.5" cy="393.8" r="4.0"/><circle cx="631.6" cy="393.7" r="4.0"/><circle cx="633.1" cy="394.0" r="4.0"/><circle cx="634.3" cy="395.4" r="4.0"/><circle cx="635.8" cy="395.6" r="4.0"/><circle cx="636.8" cy="396.1" r="4.0"/><circle cx="637.4" cy="396.7" r="4.0"/><circle cx="638.9" cy="397.4" r="4.0"/><circle cx="640.6" cy="397.6" r="4.0"/><circle cx="641.3" cy="398.6" r="4.0"/><circle cx="642.2" cy="398.6" r="4.0"/><circle cx="643.6" cy="400.0" r="4.0"/><circle cx="644.7" cy="400.3" r="4.0"/><circle cx="645.9" cy="400.9" r="4.0"/><circle cx="646.8" cy="401.2" r="4.0"/><circle cx="647.4" cy="402.1" r="4.0"/><circle cx="648.3" cy="402.4" r="4.0"/><circle cx="650.2" cy="403.4" r="4.0"/><circle cx="651.1" cy="403.4" r="4.0"/><circle cx="651.9" cy="404.2" r="4.0"/><circle cx="653.2" cy="404.7" r="4.0"/><circle cx="654.4" cy="405.9" r="4.0"/><circle cx="654.9" cy="406.1" r="4.0"/><circle cx="656.7" cy="406.3" r="4.0"/><circle cx="657.4" cy="407.6" r="4.0"/><circle cx="658.0" cy="407.6" r="4.0"/><circle cx="659.2" cy="408.4" r="4.0"/><circle cx="661.3" cy="408.7" r="4.0"/><circle cx="661.3" cy="409.3" r="4.0"/><circle cx="663.0" cy="410.0" r="4.0"/><circle cx="664.0" cy="410.4" r="4.0"/><circle cx="665.5" cy="410.8" r="4.0"/><circle cx="666.1" cy="412.0" r="4.0"/><circle cx="667.0" cy="412.3" r="4.0"/><circle cx="668.3" cy="413.0" r="4.0"/><circle cx="669.0" cy="413.9" r="4.0"/><circle cx="670.4" cy="413.4" r="4.0"/><circle cx="671.4" cy="414.5" r="4.0"/><circle cx="672.2" cy="415.2" r="4.0"/><circle cx="673.8" cy="416.1" r="4.0"/><circle cx="674.8" cy="416.2" r="4.0"/><circle cx="675.8" cy="417.4" r="4.0"/><circle cx="677.7" cy="417.8" r="4.0"/><circle cx="678.0" cy="418.8" r="4.0"/><circle cx="679.3" cy="418.7" r="4.0"/><circle cx="680.1" cy="420.0" r="4.0"/></g>
<text transform="translate(455.69,128.10) scale(1.0484,1)" font-size="25.5" fill="#1c18d0" stroke="#1c18d0" stroke-width="0.3">Stop in</text>
<text transform="translate(455.43,159.80) scale(1.0434,1)" font-size="25.5" fill="#1c18d0" stroke="#1c18d0" stroke-width="0.3">oxidized state</text>
<text transform="translate(333.20,170.50) scale(1.0400,1)" font-size="25.5" fill="#1c18d0" stroke="#1c18d0" stroke-width="0.3">Stop at</text>
<text transform="translate(333.96,201.80) scale(1.0397,1)" font-size="25.5" fill="#1c18d0" stroke="#1c18d0" stroke-width="0.3">50% SOC</text>
<text transform="translate(187.59,437.65) scale(1.0477,1)" font-size="25.5" fill="#1c18d0" stroke="#1c18d0" stroke-width="0.3">Stop in</text>
<text transform="translate(187.57,469.60) scale(1.0434,1)" font-size="25.5" fill="#1c18d0" stroke="#1c18d0" stroke-width="0.3">reduced state</text>
<line x1="445.40" y1="115.30" x2="204.18" y2="100.50" stroke="#111" stroke-width="2.3" stroke-linecap="round"/>
<polygon points="191.20,99.70 206.46,95.88 204.67,100.53 205.88,105.36" fill="#111"/>
<line x1="554.30" y1="175.60" x2="569.06" y2="343.15" stroke="#111" stroke-width="2.3" stroke-linecap="round"/>
<polygon points="570.20,356.10 564.15,341.57 569.02,342.65 573.62,340.74" fill="#111"/>
<line x1="210.60" y1="408.40" x2="240.23" y2="165.10" stroke="#111" stroke-width="2.3" stroke-linecap="round"/>
<polygon points="241.80,152.20 244.70,167.66 240.17,165.60 235.27,166.52" fill="#111"/>
<line x1="353.75" y1="436.40" x2="415.32" y2="276.63" stroke="#111" stroke-width="2.3" stroke-linecap="round"/>
<polygon points="420.00,264.50 419.04,280.20 415.15,277.10 410.17,276.79" fill="#111"/>
<rect x="553.5" y="53.5" width="168" height="62.8" fill="#fff" stroke="#333" stroke-width="1.3"/>
<circle cx="583.4" cy="69.7" r="3.3" fill="#575757"/>
<circle cx="583.4" cy="99.7" r="3.3" fill="#f24646"/>
<text transform="translate(610.75,77.85) scale(1.0397,1)" font-size="23" fill="#111" stroke="#111" stroke-width="0.3">Reduction</text>
<text transform="translate(611.03,105.60) scale(1.0444,1)" font-size="23" fill="#111" stroke="#111" stroke-width="0.3">Oxidation</text>
<g stroke="#111" stroke-width="2.2"><line x1="105.70" y1="1201.60" x2="105.70" y2="1197.10"/><line x1="105.70" y1="691.40" x2="105.70" y2="695.90"/><line x1="154.46" y1="1201.60" x2="154.46" y2="1192.60"/><line x1="154.46" y1="691.40" x2="154.46" y2="700.40"/><line x1="203.22" y1="1201.60" x2="203.22" y2="1197.10"/><line x1="203.22" y1="691.40" x2="203.22" y2="695.90"/><line x1="251.98" y1="1201.60" x2="251.98" y2="1192.60"/><line x1="251.98" y1="691.40" x2="251.98" y2="700.40"/><line x1="300.75" y1="1201.60" x2="300.75" y2="1197.10"/><line x1="300.75" y1="691.40" x2="300.75" y2="695.90"/><line x1="349.51" y1="1201.60" x2="349.51" y2="1192.60"/><line x1="349.51" y1="691.40" x2="349.51" y2="700.40"/><line x1="398.27" y1="1201.60" x2="398.27" y2="1197.10"/><line x1="398.27" y1="691.40" x2="398.27" y2="695.90"/><line x1="447.03" y1="1201.60" x2="447.03" y2="1192.60"/><line x1="447.03" y1="691.40" x2="447.03" y2="700.40"/><line x1="495.79" y1="1201.60" x2="495.79" y2="1197.10"/><line x1="495.79" y1="691.40" x2="495.79" y2="695.90"/><line x1="544.55" y1="1201.60" x2="544.55" y2="1192.60"/><line x1="544.55" y1="691.40" x2="544.55" y2="700.40"/><line x1="593.32" y1="1201.60" x2="593.32" y2="1197.10"/><line x1="593.32" y1="691.40" x2="593.32" y2="695.90"/><line x1="642.08" y1="1201.60" x2="642.08" y2="1192.60"/><line x1="642.08" y1="691.40" x2="642.08" y2="700.40"/><line x1="690.84" y1="1201.60" x2="690.84" y2="1197.10"/><line x1="690.84" y1="691.40" x2="690.84" y2="695.90"/><line x1="739.60" y1="1201.60" x2="739.60" y2="1192.60"/><line x1="739.60" y1="691.40" x2="739.60" y2="700.40"/><line x1="105.70" y1="1201.60" x2="114.70" y2="1201.60"/><line x1="739.60" y1="1201.60" x2="730.60" y2="1201.60"/><line x1="105.70" y1="1176.09" x2="110.70" y2="1176.09"/><line x1="739.60" y1="1176.09" x2="734.60" y2="1176.09"/><line x1="105.70" y1="1150.58" x2="110.70" y2="1150.58"/><line x1="739.60" y1="1150.58" x2="734.60" y2="1150.58"/><line x1="105.70" y1="1125.07" x2="110.70" y2="1125.07"/><line x1="739.60" y1="1125.07" x2="734.60" y2="1125.07"/><line x1="105.70" y1="1099.56" x2="110.70" y2="1099.56"/><line x1="739.60" y1="1099.56" x2="734.60" y2="1099.56"/><line x1="105.70" y1="1074.05" x2="114.70" y2="1074.05"/><line x1="739.60" y1="1074.05" x2="730.60" y2="1074.05"/><line x1="105.70" y1="1048.54" x2="110.70" y2="1048.54"/><line x1="739.60" y1="1048.54" x2="734.60" y2="1048.54"/><line x1="105.70" y1="1023.03" x2="110.70" y2="1023.03"/><line x1="739.60" y1="1023.03" x2="734.60" y2="1023.03"/><line x1="105.70" y1="997.52" x2="110.70" y2="997.52"/><line x1="739.60" y1="997.52" x2="734.60" y2="997.52"/><line x1="105.70" y1="972.01" x2="110.70" y2="972.01"/><line x1="739.60" y1="972.01" x2="734.60" y2="972.01"/><line x1="105.70" y1="946.50" x2="114.70" y2="946.50"/><line x1="739.60" y1="946.50" x2="730.60" y2="946.50"/><line x1="105.70" y1="920.99" x2="110.70" y2="920.99"/><line x1="739.60" y1="920.99" x2="734.60" y2="920.99"/><line x1="105.70" y1="895.48" x2="110.70" y2="895.48"/><line x1="739.60" y1="895.48" x2="734.60" y2="895.48"/><line x1="105.70" y1="869.97" x2="110.70" y2="869.97"/><line x1="739.60" y1="869.97" x2="734.60" y2="869.97"/><line x1="105.70" y1="844.46" x2="110.70" y2="844.46"/><line x1="739.60" y1="844.46" x2="734.60" y2="844.46"/><line x1="105.70" y1="818.95" x2="114.70" y2="818.95"/><line x1="739.60" y1="818.95" x2="730.60" y2="818.95"/><line x1="105.70" y1="793.44" x2="110.70" y2="793.44"/><line x1="739.60" y1="793.44" x2="734.60" y2="793.44"/><line x1="105.70" y1="767.93" x2="110.70" y2="767.93"/><line x1="739.60" y1="767.93" x2="734.60" y2="767.93"/><line x1="105.70" y1="742.42" x2="110.70" y2="742.42"/><line x1="739.60" y1="742.42" x2="734.60" y2="742.42"/><line x1="105.70" y1="716.91" x2="110.70" y2="716.91"/><line x1="739.60" y1="716.91" x2="734.60" y2="716.91"/><line x1="105.70" y1="691.40" x2="114.70" y2="691.40"/><line x1="739.60" y1="691.40" x2="730.60" y2="691.40"/></g>
<rect x="105.7" y="691.4" width="633.9" height="510.19999999999993" fill="none" stroke="#111" stroke-width="2.6"/>
<text transform="translate(95.30,1207.60) scale(1.0110,1)" font-size="21" text-anchor="end" fill="#111" stroke="#111" stroke-width="0.3">102.5</text>
<text transform="translate(95.30,1080.05) scale(1.0110,1)" font-size="21" text-anchor="end" fill="#111" stroke="#111" stroke-width="0.3">103.0</text>
<text transform="translate(95.30,952.50) scale(1.0110,1)" font-size="21" text-anchor="end" fill="#111" stroke="#111" stroke-width="0.3">103.5</text>
<text transform="translate(95.30,824.95) scale(1.0110,1)" font-size="21" text-anchor="end" fill="#111" stroke="#111" stroke-width="0.3">104.0</text>
<text transform="translate(95.30,697.40) scale(1.0110,1)" font-size="21" text-anchor="end" fill="#111" stroke="#111" stroke-width="0.3">104.5</text>
<text transform="translate(142.64,1229.00) scale(1.0100,1)" font-size="21" fill="#111" stroke="#111" stroke-width="0.3">18</text>
<text transform="translate(240.42,1229.00) scale(1.0100,1)" font-size="21" fill="#111" stroke="#111" stroke-width="0.3">20</text>
<text transform="translate(338.07,1229.00) scale(1.0100,1)" font-size="21" fill="#111" stroke="#111" stroke-width="0.3">22</text>
<text transform="translate(435.34,1229.00) scale(1.0100,1)" font-size="21" fill="#111" stroke="#111" stroke-width="0.3">24</text>
<text transform="translate(533.05,1229.00) scale(1.0100,1)" font-size="21" fill="#111" stroke="#111" stroke-width="0.3">26</text>
<text transform="translate(630.57,1229.00) scale(1.0100,1)" font-size="21" fill="#111" stroke="#111" stroke-width="0.3">28</text>
<text transform="translate(728.10,1229.00) scale(1.0100,1)" font-size="21" fill="#111" stroke="#111" stroke-width="0.3">30</text>
<text transform="translate(353.77,1270.00) scale(1.0064,1)" font-size="26.5" fill="#111" stroke="#111" stroke-width="0.3">Time (days)</text>
<text transform="translate(30.20,1020.89) rotate(-90) scale(1.0137,1.045)" font-size="26.5" fill="#111" stroke="#111" stroke-width="0.3">Capacity (C)</text>
<text transform="translate(3.04,686.70) scale(1.0213,1)" font-size="26" fill="#111" stroke="#111" stroke-width="0.3">b</text>
<text transform="translate(19.56,686.70) scale(0.9630,1)" font-size="26" fill="#111" stroke="#111" stroke-width="0.3">)</text>
<g fill="#575757"><circle cx="119.8" cy="810.2" r="4.5"/><circle cx="120.1" cy="810.9" r="4.5"/><circle cx="120.5" cy="812.4" r="4.5"/><circle cx="121.7" cy="812.6" r="4.5"/><circle cx="123.4" cy="813.7" r="4.5"/><circle cx="123.7" cy="813.6" r="4.5"/><circle cx="124.8" cy="814.0" r="4.5"/><circle cx="126.2" cy="815.2" r="4.5"/><circle cx="127.2" cy="816.0" r="4.5"/><circle cx="127.3" cy="816.8" r="4.5"/><circle cx="128.4" cy="817.6" r="4.5"/><circle cx="128.6" cy="819.4" r="4.5"/><circle cx="130.1" cy="819.4" r="4.5"/><circle cx="131.1" cy="820.7" r="4.5"/><circle cx="132.3" cy="821.9" r="4.5"/><circle cx="133.7" cy="822.3" r="4.5"/><circle cx="135.2" cy="823.9" r="4.5"/><circle cx="134.6" cy="824.6" r="4.5"/><circle cx="137.1" cy="825.3" r="4.5"/><circle cx="136.7" cy="826.1" r="4.5"/><circle cx="138.5" cy="825.4" r="4.5"/><circle cx="138.4" cy="827.8" r="4.5"/><circle cx="140.5" cy="827.3" r="4.5"/><circle cx="140.5" cy="827.9" r="4.5"/><circle cx="142.1" cy="829.3" r="4.5"/><circle cx="143.6" cy="828.5" r="4.5"/><circle cx="145.9" cy="830.0" r="4.5"/><circle cx="145.8" cy="830.5" r="4.5"/><circle cx="147.9" cy="830.7" r="4.5"/><circle cx="149.3" cy="831.2" r="4.5"/><circle cx="150.6" cy="831.7" r="4.5"/><circle cx="150.7" cy="832.0" r="4.5"/><circle cx="152.4" cy="832.6" r="4.5"/><circle cx="153.4" cy="833.5" r="4.5"/><circle cx="154.7" cy="832.9" r="4.5"/><circle cx="155.3" cy="833.3" r="4.5"/><circle cx="156.9" cy="833.7" r="4.5"/><circle cx="157.9" cy="834.5" r="4.5"/><circle cx="158.9" cy="835.9" r="4.5"/><circle cx="160.0" cy="837.2" r="4.5"/><circle cx="160.1" cy="837.9" r="4.5"/><circle cx="161.9" cy="838.1" r="4.5"/><circle cx="163.3" cy="839.2" r="4.5"/><circle cx="163.8" cy="839.2" r="4.5"/><circle cx="165.8" cy="839.2" r="4.5"/><circle cx="166.3" cy="840.9" r="4.5"/><circle cx="166.4" cy="841.4" r="4.5"/><circle cx="168.6" cy="842.6" r="4.5"/><circle cx="169.1" cy="843.3" r="4.5"/><circle cx="170.5" cy="843.0" r="4.5"/><circle cx="172.3" cy="842.8" r="4.5"/><circle cx="173.1" cy="844.5" r="4.5"/><circle cx="173.5" cy="845.6" r="4.5"/><circle cx="174.7" cy="845.5" r="4.5"/><circle cx="176.1" cy="846.6" r="4.5"/><circle cx="176.7" cy="846.6" r="4.5"/><circle cx="178.2" cy="847.5" r="4.5"/><circle cx="180.1" cy="847.6" r="4.5"/><circle cx="181.2" cy="848.4" r="4.5"/><circle cx="181.7" cy="848.7" r="4.5"/><circle cx="182.8" cy="850.4" r="4.5"/><circle cx="184.2" cy="850.6" r="4.5"/><circle cx="184.8" cy="850.2" r="4.5"/><circle cx="185.8" cy="851.2" r="4.5"/><circle cx="187.5" cy="852.0" r="4.5"/><circle cx="187.6" cy="852.4" r="4.5"/><circle cx="190.2" cy="852.6" r="4.5"/><circle cx="189.8" cy="852.7" r="4.5"/><circle cx="190.9" cy="853.0" r="4.5"/><circle cx="193.6" cy="854.3" r="4.5"/><circle cx="194.3" cy="855.1" r="4.5"/><circle cx="195.9" cy="855.3" r="4.5"/><circle cx="196.5" cy="855.8" r="4.5"/><circle cx="197.7" cy="856.4" r="4.5"/><circle cx="198.8" cy="856.3" r="4.5"/><circle cx="199.9" cy="857.4" r="4.5"/><circle cx="201.2" cy="857.4" r="4.5"/><circle cx="201.2" cy="857.9" r="4.5"/><circle cx="203.4" cy="860.1" r="4.5"/><circle cx="204.3" cy="859.8" r="4.5"/><circle cx="205.7" cy="861.1" r="4.5"/><circle cx="206.4" cy="860.8" r="4.5"/><circle cx="207.0" cy="861.7" r="4.5"/><circle cx="208.2" cy="862.3" r="4.5"/><circle cx="209.9" cy="863.8" r="4.5"/><circle cx="210.0" cy="863.7" r="4.5"/><circle cx="211.1" cy="863.5" r="4.5"/><circle cx="213.3" cy="865.2" r="4.5"/><circle cx="214.4" cy="865.9" r="4.5"/><circle cx="213.6" cy="866.6" r="4.5"/><circle cx="215.5" cy="868.5" r="4.5"/><circle cx="217.0" cy="868.6" r="4.5"/><circle cx="216.8" cy="868.8" r="4.5"/></g>
<g fill="#575757"><circle cx="367.3" cy="1104.5" r="4.5"/><circle cx="366.6" cy="1102.9" r="4.5"/><circle cx="366.5" cy="1102.8" r="4.5"/><circle cx="366.9" cy="1102.1" r="4.5"/><circle cx="367.0" cy="1100.7" r="4.5"/><circle cx="367.3" cy="1097.9" r="4.5"/><circle cx="368.5" cy="1097.1" r="4.5"/><circle cx="368.7" cy="1095.7" r="4.5"/><circle cx="367.7" cy="1095.5" r="4.5"/><circle cx="369.1" cy="1094.4" r="4.5"/><circle cx="369.3" cy="1091.9" r="4.5"/><circle cx="369.4" cy="1091.8" r="4.5"/><circle cx="369.3" cy="1091.0" r="4.5"/><circle cx="369.1" cy="1089.9" r="4.5"/><circle cx="370.2" cy="1087.0" r="4.5"/><circle cx="369.1" cy="1087.0" r="4.5"/><circle cx="370.8" cy="1084.7" r="4.5"/><circle cx="370.1" cy="1084.7" r="4.5"/><circle cx="370.0" cy="1083.8" r="4.5"/><circle cx="370.8" cy="1081.1" r="4.5"/><circle cx="370.8" cy="1080.9" r="4.5"/><circle cx="371.1" cy="1079.9" r="4.5"/><circle cx="370.8" cy="1078.9" r="4.5"/><circle cx="371.4" cy="1077.4" r="4.5"/><circle cx="372.1" cy="1075.9" r="4.5"/><circle cx="372.1" cy="1075.3" r="4.5"/><circle cx="373.4" cy="1074.1" r="4.5"/><circle cx="373.1" cy="1072.1" r="4.5"/><circle cx="372.6" cy="1072.1" r="4.5"/><circle cx="374.1" cy="1070.7" r="4.5"/><circle cx="373.8" cy="1069.1" r="4.5"/><circle cx="375.4" cy="1068.3" r="4.5"/><circle cx="375.1" cy="1066.2" r="4.5"/><circle cx="375.1" cy="1066.1" r="4.5"/><circle cx="375.4" cy="1064.5" r="4.5"/><circle cx="376.2" cy="1063.7" r="4.5"/><circle cx="377.2" cy="1061.6" r="4.5"/><circle cx="376.5" cy="1060.6" r="4.5"/><circle cx="377.9" cy="1060.2" r="4.5"/><circle cx="379.3" cy="1059.7" r="4.5"/><circle cx="378.6" cy="1058.6" r="4.5"/><circle cx="380.6" cy="1057.7" r="4.5"/><circle cx="380.9" cy="1055.6" r="4.5"/><circle cx="382.0" cy="1055.6" r="4.5"/><circle cx="382.8" cy="1054.8" r="4.5"/><circle cx="383.2" cy="1052.5" r="4.5"/><circle cx="384.6" cy="1052.8" r="4.5"/><circle cx="385.0" cy="1051.9" r="4.5"/><circle cx="387.4" cy="1050.0" r="4.5"/><circle cx="388.1" cy="1050.2" r="4.5"/><circle cx="389.1" cy="1048.7" r="4.5"/><circle cx="390.0" cy="1049.1" r="4.5"/><circle cx="392.2" cy="1047.9" r="4.5"/><circle cx="392.3" cy="1048.0" r="4.5"/><circle cx="394.7" cy="1047.3" r="4.5"/><circle cx="395.5" cy="1049.0" r="4.5"/><circle cx="397.3" cy="1048.7" r="4.5"/><circle cx="397.8" cy="1049.2" r="4.5"/><circle cx="398.4" cy="1048.9" r="4.5"/><circle cx="399.8" cy="1050.0" r="4.5"/><circle cx="401.6" cy="1049.8" r="4.5"/><circle cx="403.0" cy="1049.8" r="4.5"/><circle cx="404.0" cy="1049.1" r="4.5"/><circle cx="406.9" cy="1049.8" r="4.5"/><circle cx="406.5" cy="1050.6" r="4.5"/><circle cx="408.9" cy="1050.0" r="4.5"/><circle cx="409.7" cy="1050.7" r="4.5"/><circle cx="410.8" cy="1050.4" r="4.5"/><circle cx="411.1" cy="1052.5" r="4.5"/><circle cx="413.7" cy="1051.9" r="4.5"/><circle cx="414.4" cy="1051.8" r="4.5"/><circle cx="416.0" cy="1052.4" r="4.5"/><circle cx="417.4" cy="1053.3" r="4.5"/><circle cx="418.4" cy="1054.0" r="4.5"/><circle cx="418.6" cy="1052.7" r="4.5"/><circle cx="419.5" cy="1053.4" r="4.5"/><circle cx="420.4" cy="1053.7" r="4.5"/><circle cx="422.4" cy="1055.7" r="4.5"/><circle cx="423.3" cy="1056.4" r="4.5"/><circle cx="425.2" cy="1055.3" r="4.5"/><circle cx="425.7" cy="1056.4" r="4.5"/><circle cx="425.9" cy="1057.9" r="4.5"/><circle cx="427.2" cy="1057.7" r="4.5"/><circle cx="429.0" cy="1059.0" r="4.5"/><circle cx="430.1" cy="1058.5" r="4.5"/><circle cx="430.8" cy="1058.6" r="4.5"/><circle cx="432.8" cy="1060.6" r="4.5"/><circle cx="432.6" cy="1059.4" r="4.5"/><circle cx="433.7" cy="1060.5" r="4.5"/><circle cx="436.0" cy="1062.0" r="4.5"/><circle cx="436.9" cy="1061.0" r="4.5"/><circle cx="437.9" cy="1062.7" r="4.5"/><circle cx="438.8" cy="1063.7" r="4.5"/><circle cx="438.8" cy="1062.7" r="4.5"/><circle cx="441.1" cy="1064.6" r="4.5"/><circle cx="442.1" cy="1064.0" r="4.5"/><circle cx="443.0" cy="1065.3" r="4.5"/><circle cx="443.2" cy="1065.1" r="4.5"/><circle cx="444.6" cy="1065.2" r="4.5"/><circle cx="446.1" cy="1065.6" r="4.5"/><circle cx="446.9" cy="1065.9" r="4.5"/><circle cx="448.9" cy="1066.0" r="4.5"/><circle cx="450.1" cy="1066.7" r="4.5"/><circle cx="450.1" cy="1068.3" r="4.5"/><circle cx="451.6" cy="1068.6" r="4.5"/><circle cx="453.9" cy="1068.9" r="4.5"/><circle cx="453.8" cy="1068.4" r="4.5"/><circle cx="454.9" cy="1069.6" r="4.5"/><circle cx="457.4" cy="1069.4" r="4.5"/><circle cx="457.9" cy="1069.2" r="4.5"/><circle cx="459.7" cy="1070.2" r="4.5"/><circle cx="460.4" cy="1070.2" r="4.5"/><circle cx="460.8" cy="1070.8" r="4.5"/><circle cx="462.7" cy="1072.4" r="4.5"/><circle cx="462.8" cy="1073.6" r="4.5"/><circle cx="464.1" cy="1073.5" r="4.5"/><circle cx="465.0" cy="1073.9" r="4.5"/><circle cx="467.3" cy="1074.7" r="4.5"/><circle cx="467.2" cy="1075.7" r="4.5"/><circle cx="468.6" cy="1077.1" r="4.5"/><circle cx="469.3" cy="1078.0" r="4.5"/><circle cx="470.5" cy="1078.2" r="4.5"/><circle cx="472.8" cy="1077.4" r="4.5"/><circle cx="473.7" cy="1078.0" r="4.5"/><circle cx="474.6" cy="1078.3" r="4.5"/><circle cx="476.0" cy="1080.1" r="4.5"/><circle cx="478.4" cy="1080.4" r="4.5"/><circle cx="478.0" cy="1079.7" r="4.5"/><circle cx="480.7" cy="1079.7" r="4.5"/><circle cx="481.5" cy="1080.6" r="4.5"/><circle cx="483.1" cy="1080.5" r="4.5"/><circle cx="483.9" cy="1081.6" r="4.5"/><circle cx="483.8" cy="1081.4" r="4.5"/><circle cx="486.2" cy="1082.8" r="4.5"/><circle cx="486.1" cy="1083.1" r="4.5"/><circle cx="488.5" cy="1083.1" r="4.5"/><circle cx="489.1" cy="1083.4" r="4.5"/><circle cx="489.5" cy="1085.0" r="4.5"/><circle cx="491.5" cy="1084.4" r="4.5"/><circle cx="491.5" cy="1084.7" r="4.5"/><circle cx="493.6" cy="1085.8" r="4.5"/><circle cx="494.1" cy="1085.8" r="4.5"/><circle cx="495.8" cy="1087.1" r="4.5"/><circle cx="497.3" cy="1087.3" r="4.5"/><circle cx="497.3" cy="1086.9" r="4.5"/><circle cx="499.4" cy="1087.9" r="4.5"/><circle cx="500.5" cy="1087.7" r="4.5"/><circle cx="501.8" cy="1088.7" r="4.5"/><circle cx="502.9" cy="1090.1" r="4.5"/><circle cx="503.4" cy="1089.0" r="4.5"/><circle cx="505.3" cy="1090.3" r="4.5"/><circle cx="506.3" cy="1090.3" r="4.5"/><circle cx="506.2" cy="1091.8" r="4.5"/><circle cx="507.6" cy="1091.0" r="4.5"/><circle cx="508.8" cy="1092.3" r="4.5"/><circle cx="509.2" cy="1092.7" r="4.5"/><circle cx="511.1" cy="1093.2" r="4.5"/><circle cx="511.6" cy="1094.1" r="4.5"/><circle cx="513.9" cy="1094.9" r="4.5"/><circle cx="514.1" cy="1095.1" r="4.5"/><circle cx="515.3" cy="1095.8" r="4.5"/><circle cx="515.8" cy="1096.5" r="4.5"/><circle cx="518.5" cy="1096.4" r="4.5"/><circle cx="518.8" cy="1097.0" r="4.5"/><circle cx="519.9" cy="1096.6" r="4.5"/><circle cx="521.8" cy="1097.5" r="4.5"/><circle cx="521.4" cy="1097.8" r="4.5"/><circle cx="522.6" cy="1099.6" r="4.5"/><circle cx="523.3" cy="1098.8" r="4.5"/><circle cx="525.6" cy="1099.6" r="4.5"/><circle cx="525.5" cy="1100.8" r="4.5"/><circle cx="527.6" cy="1101.2" r="4.5"/><circle cx="528.9" cy="1101.0" r="4.5"/><circle cx="530.2" cy="1102.6" r="4.5"/><circle cx="529.8" cy="1102.1" r="4.5"/><circle cx="531.7" cy="1103.3" r="4.5"/><circle cx="532.4" cy="1103.2" r="4.5"/><circle cx="533.7" cy="1103.7" r="4.5"/><circle cx="535.2" cy="1105.5" r="4.5"/><circle cx="535.4" cy="1105.6" r="4.5"/><circle cx="537.6" cy="1105.4" r="4.5"/><circle cx="538.8" cy="1107.3" r="4.5"/><circle cx="539.1" cy="1106.9" r="4.5"/><circle cx="541.0" cy="1107.6" r="4.5"/><circle cx="541.3" cy="1108.9" r="4.5"/><circle cx="543.1" cy="1108.3" r="4.5"/><circle cx="543.2" cy="1108.9" r="4.5"/><circle cx="544.6" cy="1110.6" r="4.5"/><circle cx="546.4" cy="1111.0" r="4.5"/><circle cx="547.5" cy="1111.4" r="4.5"/><circle cx="547.2" cy="1111.3" r="4.5"/><circle cx="549.9" cy="1112.7" r="4.5"/><circle cx="549.7" cy="1112.4" r="4.5"/><circle cx="551.5" cy="1112.9" r="4.5"/><circle cx="552.4" cy="1113.0" r="4.5"/><circle cx="553.3" cy="1114.4" r="4.5"/><circle cx="553.7" cy="1114.3" r="4.5"/><circle cx="556.5" cy="1116.1" r="4.5"/><circle cx="557.5" cy="1116.4" r="4.5"/><circle cx="558.4" cy="1117.5" r="4.5"/><circle cx="559.6" cy="1116.6" r="4.5"/><circle cx="560.3" cy="1117.6" r="4.5"/><circle cx="561.4" cy="1118.1" r="4.5"/><circle cx="562.3" cy="1119.8" r="4.5"/><circle cx="563.6" cy="1119.1" r="4.5"/><circle cx="564.5" cy="1119.9" r="4.5"/><circle cx="566.4" cy="1120.2" r="4.5"/><circle cx="566.3" cy="1121.4" r="4.5"/><circle cx="567.1" cy="1121.8" r="4.5"/><circle cx="569.7" cy="1122.1" r="4.5"/><circle cx="569.6" cy="1122.6" r="4.5"/><circle cx="571.2" cy="1122.5" r="4.5"/><circle cx="571.6" cy="1123.0" r="4.5"/><circle cx="573.0" cy="1124.0" r="4.5"/><circle cx="574.1" cy="1124.2" r="4.5"/><circle cx="574.9" cy="1125.3" r="4.5"/><circle cx="577.3" cy="1125.9" r="4.5"/><circle cx="578.0" cy="1126.5" r="4.5"/><circle cx="578.4" cy="1127.1" r="4.5"/><circle cx="580.0" cy="1127.3" r="4.5"/><circle cx="581.4" cy="1127.7" r="4.5"/><circle cx="581.9" cy="1127.8" r="4.5"/><circle cx="582.9" cy="1128.8" r="4.5"/><circle cx="584.3" cy="1129.5" r="4.5"/><circle cx="584.7" cy="1129.6" r="4.5"/><circle cx="587.4" cy="1129.9" r="4.5"/><circle cx="588.0" cy="1130.8" r="4.5"/><circle cx="588.6" cy="1132.2" r="4.5"/><circle cx="589.7" cy="1132.4" r="4.5"/><circle cx="590.6" cy="1131.6" r="4.5"/><circle cx="593.0" cy="1132.8" r="4.5"/><circle cx="592.6" cy="1133.2" r="4.5"/><circle cx="594.4" cy="1134.4" r="4.5"/><circle cx="595.0" cy="1134.0" r="4.5"/><circle cx="597.6" cy="1135.4" r="4.5"/><circle cx="597.3" cy="1135.2" r="4.5"/><circle cx="598.7" cy="1136.3" r="4.5"/><circle cx="600.3" cy="1137.0" r="4.5"/><circle cx="601.8" cy="1136.8" r="4.5"/><circle cx="602.8" cy="1137.7" r="4.5"/><circle cx="604.0" cy="1137.6" r="4.5"/><circle cx="605.2" cy="1138.4" r="4.5"/><circle cx="606.5" cy="1137.8" r="4.5"/><circle cx="607.6" cy="1138.0" r="4.5"/><circle cx="608.5" cy="1139.4" r="4.5"/><circle cx="609.2" cy="1140.5" r="4.5"/><circle cx="610.4" cy="1139.9" r="4.5"/><circle cx="612.0" cy="1141.2" r="4.5"/><circle cx="612.8" cy="1140.7" r="4.5"/><circle cx="613.6" cy="1141.2" r="4.5"/><circle cx="615.2" cy="1141.3" r="4.5"/><circle cx="615.8" cy="1142.2" r="4.5"/><circle cx="616.9" cy="1142.2" r="4.5"/><circle cx="618.8" cy="1143.6" r="4.5"/><circle cx="619.4" cy="1143.2" r="4.5"/><circle cx="619.9" cy="1143.4" r="4.5"/><circle cx="621.0" cy="1144.3" r="4.5"/><circle cx="622.9" cy="1143.8" r="4.5"/><circle cx="624.7" cy="1144.7" r="4.5"/><circle cx="625.6" cy="1146.0" r="4.5"/><circle cx="627.0" cy="1145.3" r="4.5"/><circle cx="627.2" cy="1146.9" r="4.5"/><circle cx="627.5" cy="1145.8" r="4.5"/><circle cx="629.7" cy="1147.0" r="4.5"/><circle cx="631.4" cy="1147.9" r="4.5"/><circle cx="631.9" cy="1148.7" r="4.5"/><circle cx="633.0" cy="1148.3" r="4.5"/><circle cx="634.4" cy="1148.4" r="4.5"/><circle cx="635.0" cy="1149.2" r="4.5"/><circle cx="636.1" cy="1150.3" r="4.5"/><circle cx="637.8" cy="1149.9" r="4.5"/><circle cx="637.9" cy="1150.1" r="4.5"/><circle cx="639.6" cy="1150.8" r="4.5"/><circle cx="641.0" cy="1151.8" r="4.5"/><circle cx="642.8" cy="1151.5" r="4.5"/></g>
<g fill="#575757"><circle cx="363.8" cy="1148.2" r="3.2"/><circle cx="365" cy="1126" r="3.4"/><circle cx="365.5" cy="1116.5" r="3.6"/></g>
<g fill="#f24646"><circle cx="120.2" cy="798.2" r="4.5"/><circle cx="122.0" cy="798.7" r="4.5"/><circle cx="121.9" cy="800.6" r="4.5"/><circle cx="122.0" cy="800.8" r="4.5"/><circle cx="124.2" cy="802.7" r="4.5"/><circle cx="124.1" cy="802.4" r="4.5"/><circle cx="125.6" cy="804.5" r="4.5"/><circle cx="126.2" cy="806.1" r="4.5"/><circle cx="127.4" cy="805.7" r="4.5"/><circle cx="127.2" cy="806.2" r="4.5"/><circle cx="129.0" cy="807.3" r="4.5"/><circle cx="129.5" cy="807.4" r="4.5"/><circle cx="131.4" cy="808.8" r="4.5"/><circle cx="132.0" cy="810.2" r="4.5"/><circle cx="133.6" cy="809.2" r="4.5"/><circle cx="134.4" cy="811.3" r="4.5"/><circle cx="135.3" cy="811.9" r="4.5"/><circle cx="135.9" cy="812.0" r="4.5"/><circle cx="138.5" cy="813.3" r="4.5"/><circle cx="139.3" cy="813.4" r="4.5"/><circle cx="140.1" cy="814.8" r="4.5"/><circle cx="140.8" cy="815.8" r="4.5"/><circle cx="142.6" cy="816.9" r="4.5"/><circle cx="144.0" cy="816.3" r="4.5"/><circle cx="144.4" cy="816.3" r="4.5"/><circle cx="146.9" cy="816.7" r="4.5"/><circle cx="147.0" cy="817.2" r="4.5"/><circle cx="149.0" cy="818.9" r="4.5"/><circle cx="150.3" cy="819.5" r="4.5"/><circle cx="150.5" cy="818.8" r="4.5"/><circle cx="152.9" cy="820.0" r="4.5"/><circle cx="153.9" cy="820.7" r="4.5"/><circle cx="154.0" cy="821.2" r="4.5"/><circle cx="155.1" cy="823.1" r="4.5"/><circle cx="157.0" cy="822.7" r="4.5"/><circle cx="157.8" cy="823.5" r="4.5"/><circle cx="158.1" cy="825.0" r="4.5"/><circle cx="160.1" cy="825.8" r="4.5"/><circle cx="160.8" cy="825.9" r="4.5"/><circle cx="161.5" cy="825.5" r="4.5"/><circle cx="163.8" cy="827.6" r="4.5"/><circle cx="163.7" cy="828.4" r="4.5"/><circle cx="165.6" cy="827.9" r="4.5"/><circle cx="166.3" cy="829.7" r="4.5"/><circle cx="167.2" cy="830.2" r="4.5"/><circle cx="167.8" cy="829.7" r="4.5"/><circle cx="169.8" cy="829.9" r="4.5"/><circle cx="170.2" cy="831.6" r="4.5"/><circle cx="171.6" cy="832.0" r="4.5"/><circle cx="172.2" cy="831.4" r="4.5"/><circle cx="173.6" cy="832.0" r="4.5"/><circle cx="175.8" cy="832.7" r="4.5"/><circle cx="176.2" cy="832.9" r="4.5"/><circle cx="177.3" cy="833.9" r="4.5"/><circle cx="178.2" cy="833.9" r="4.5"/><circle cx="178.8" cy="835.8" r="4.5"/><circle cx="180.3" cy="835.2" r="4.5"/><circle cx="181.2" cy="835.8" r="4.5"/><circle cx="182.4" cy="835.9" r="4.5"/><circle cx="184.2" cy="837.0" r="4.5"/><circle cx="184.4" cy="838.1" r="4.5"/><circle cx="185.4" cy="837.9" r="4.5"/><circle cx="187.9" cy="838.1" r="4.5"/><circle cx="188.3" cy="839.9" r="4.5"/><circle cx="190.1" cy="839.2" r="4.5"/><circle cx="190.4" cy="840.8" r="4.5"/><circle cx="191.5" cy="841.8" r="4.5"/><circle cx="192.4" cy="842.3" r="4.5"/><circle cx="194.0" cy="841.5" r="4.5"/><circle cx="195.0" cy="841.9" r="4.5"/><circle cx="196.6" cy="842.7" r="4.5"/><circle cx="198.1" cy="843.9" r="4.5"/><circle cx="198.2" cy="843.9" r="4.5"/><circle cx="199.8" cy="844.5" r="4.5"/><circle cx="201.3" cy="844.9" r="4.5"/><circle cx="201.8" cy="846.3" r="4.5"/><circle cx="202.5" cy="847.4" r="4.5"/><circle cx="203.8" cy="847.8" r="4.5"/><circle cx="205.5" cy="847.8" r="4.5"/><circle cx="206.5" cy="848.1" r="4.5"/><circle cx="207.4" cy="850.1" r="4.5"/><circle cx="209.0" cy="850.6" r="4.5"/><circle cx="210.0" cy="851.3" r="4.5"/><circle cx="211.8" cy="852.0" r="4.5"/><circle cx="212.5" cy="852.3" r="4.5"/><circle cx="213.5" cy="853.6" r="4.5"/><circle cx="214.0" cy="855.5" r="4.5"/><circle cx="215.2" cy="856.0" r="4.5"/></g>
<g fill="#f24646"><circle cx="366.7" cy="1088.5" r="4.5"/><circle cx="366.8" cy="1087.4" r="4.5"/><circle cx="365.6" cy="1085.1" r="4.5"/><circle cx="365.5" cy="1084.6" r="4.5"/><circle cx="366.8" cy="1082.7" r="4.5"/><circle cx="366.5" cy="1082.0" r="4.5"/><circle cx="367.1" cy="1080.0" r="4.5"/><circle cx="367.5" cy="1079.0" r="4.5"/><circle cx="367.2" cy="1077.4" r="4.5"/><circle cx="366.4" cy="1077.5" r="4.5"/><circle cx="367.7" cy="1075.9" r="4.5"/><circle cx="366.5" cy="1073.4" r="4.5"/><circle cx="366.9" cy="1072.5" r="4.5"/><circle cx="367.4" cy="1071.6" r="4.5"/><circle cx="367.1" cy="1070.2" r="4.5"/><circle cx="368.4" cy="1068.8" r="4.5"/><circle cx="369.0" cy="1068.3" r="4.5"/><circle cx="369.0" cy="1066.5" r="4.5"/><circle cx="368.7" cy="1066.0" r="4.5"/><circle cx="368.7" cy="1063.6" r="4.5"/><circle cx="369.8" cy="1063.8" r="4.5"/><circle cx="369.0" cy="1061.2" r="4.5"/><circle cx="370.3" cy="1061.1" r="4.5"/><circle cx="369.0" cy="1059.2" r="4.5"/><circle cx="369.4" cy="1059.0" r="4.5"/><circle cx="369.8" cy="1058.0" r="4.5"/><circle cx="370.9" cy="1055.3" r="4.5"/><circle cx="371.3" cy="1054.6" r="4.5"/><circle cx="371.8" cy="1054.2" r="4.5"/><circle cx="371.5" cy="1051.7" r="4.5"/><circle cx="373.1" cy="1051.1" r="4.5"/><circle cx="373.5" cy="1050.3" r="4.5"/><circle cx="373.6" cy="1049.4" r="4.5"/><circle cx="373.9" cy="1047.5" r="4.5"/><circle cx="373.3" cy="1046.8" r="4.5"/><circle cx="374.4" cy="1045.2" r="4.5"/><circle cx="375.8" cy="1043.3" r="4.5"/><circle cx="376.3" cy="1042.3" r="4.5"/><circle cx="377.1" cy="1042.7" r="4.5"/><circle cx="377.1" cy="1041.3" r="4.5"/><circle cx="379.3" cy="1040.5" r="4.5"/><circle cx="379.4" cy="1038.9" r="4.5"/><circle cx="379.3" cy="1038.2" r="4.5"/><circle cx="380.8" cy="1037.0" r="4.5"/><circle cx="381.9" cy="1036.2" r="4.5"/><circle cx="383.9" cy="1036.6" r="4.5"/><circle cx="384.3" cy="1035.2" r="4.5"/><circle cx="386.0" cy="1034.9" r="4.5"/><circle cx="388.2" cy="1034.3" r="4.5"/><circle cx="388.4" cy="1034.9" r="4.5"/><circle cx="389.5" cy="1033.9" r="4.5"/><circle cx="391.2" cy="1034.0" r="4.5"/><circle cx="392.9" cy="1034.1" r="4.5"/><circle cx="393.5" cy="1034.1" r="4.5"/><circle cx="395.6" cy="1034.0" r="4.5"/><circle cx="397.2" cy="1034.9" r="4.5"/><circle cx="397.3" cy="1034.1" r="4.5"/><circle cx="399.1" cy="1034.2" r="4.5"/><circle cx="399.9" cy="1034.5" r="4.5"/><circle cx="401.5" cy="1035.4" r="4.5"/><circle cx="403.2" cy="1034.5" r="4.5"/><circle cx="404.4" cy="1035.4" r="4.5"/><circle cx="405.8" cy="1035.0" r="4.5"/><circle cx="406.4" cy="1035.1" r="4.5"/><circle cx="409.2" cy="1036.8" r="4.5"/><circle cx="408.8" cy="1037.2" r="4.5"/><circle cx="411.6" cy="1037.3" r="4.5"/><circle cx="411.2" cy="1037.5" r="4.5"/><circle cx="413.0" cy="1037.4" r="4.5"/><circle cx="414.4" cy="1037.5" r="4.5"/><circle cx="416.2" cy="1039.0" r="4.5"/><circle cx="416.9" cy="1039.9" r="4.5"/><circle cx="418.1" cy="1039.1" r="4.5"/><circle cx="418.5" cy="1039.2" r="4.5"/><circle cx="419.3" cy="1040.8" r="4.5"/><circle cx="422.0" cy="1040.4" r="4.5"/><circle cx="422.0" cy="1041.4" r="4.5"/><circle cx="424.3" cy="1042.3" r="4.5"/><circle cx="424.3" cy="1042.5" r="4.5"/><circle cx="426.7" cy="1042.8" r="4.5"/><circle cx="427.0" cy="1042.3" r="4.5"/><circle cx="429.0" cy="1042.9" r="4.5"/><circle cx="429.4" cy="1043.8" r="4.5"/><circle cx="430.6" cy="1044.7" r="4.5"/><circle cx="431.5" cy="1043.7" r="4.5"/><circle cx="433.3" cy="1045.2" r="4.5"/><circle cx="434.9" cy="1045.9" r="4.5"/><circle cx="436.3" cy="1046.8" r="4.5"/><circle cx="436.7" cy="1046.5" r="4.5"/><circle cx="437.3" cy="1046.6" r="4.5"/><circle cx="439.2" cy="1046.7" r="4.5"/><circle cx="440.6" cy="1047.4" r="4.5"/><circle cx="441.4" cy="1049.3" r="4.5"/><circle cx="441.9" cy="1048.2" r="4.5"/><circle cx="443.7" cy="1048.9" r="4.5"/><circle cx="445.4" cy="1049.1" r="4.5"/><circle cx="446.8" cy="1051.0" r="4.5"/><circle cx="447.9" cy="1050.7" r="4.5"/><circle cx="448.2" cy="1051.5" r="4.5"/><circle cx="449.8" cy="1051.5" r="4.5"/><circle cx="450.6" cy="1051.9" r="4.5"/><circle cx="452.4" cy="1053.0" r="4.5"/><circle cx="454.0" cy="1052.3" r="4.5"/><circle cx="454.1" cy="1053.2" r="4.5"/><circle cx="455.8" cy="1053.4" r="4.5"/><circle cx="456.3" cy="1053.3" r="4.5"/><circle cx="457.7" cy="1054.4" r="4.5"/><circle cx="459.9" cy="1055.9" r="4.5"/><circle cx="460.8" cy="1056.7" r="4.5"/><circle cx="462.1" cy="1056.8" r="4.5"/><circle cx="462.9" cy="1056.4" r="4.5"/><circle cx="463.8" cy="1058.1" r="4.5"/><circle cx="464.2" cy="1058.7" r="4.5"/><circle cx="466.5" cy="1059.2" r="4.5"/><circle cx="467.0" cy="1059.6" r="4.5"/><circle cx="467.5" cy="1061.3" r="4.5"/><circle cx="468.1" cy="1060.8" r="4.5"/><circle cx="470.3" cy="1061.9" r="4.5"/><circle cx="470.4" cy="1062.8" r="4.5"/><circle cx="472.0" cy="1063.1" r="4.5"/><circle cx="473.2" cy="1063.5" r="4.5"/><circle cx="474.6" cy="1063.7" r="4.5"/><circle cx="474.9" cy="1063.8" r="4.5"/><circle cx="477.4" cy="1064.9" r="4.5"/><circle cx="477.1" cy="1065.9" r="4.5"/><circle cx="478.4" cy="1065.0" r="4.5"/><circle cx="480.1" cy="1065.8" r="4.5"/><circle cx="481.1" cy="1066.8" r="4.5"/><circle cx="481.7" cy="1067.3" r="4.5"/><circle cx="482.6" cy="1067.7" r="4.5"/><circle cx="484.6" cy="1067.5" r="4.5"/><circle cx="485.4" cy="1068.0" r="4.5"/><circle cx="486.6" cy="1069.9" r="4.5"/><circle cx="487.9" cy="1070.1" r="4.5"/><circle cx="489.4" cy="1069.6" r="4.5"/><circle cx="490.9" cy="1071.2" r="4.5"/><circle cx="490.4" cy="1071.9" r="4.5"/><circle cx="492.1" cy="1071.2" r="4.5"/><circle cx="494.2" cy="1072.4" r="4.5"/><circle cx="495.0" cy="1072.1" r="4.5"/><circle cx="496.1" cy="1072.5" r="4.5"/><circle cx="496.3" cy="1073.6" r="4.5"/><circle cx="497.0" cy="1074.5" r="4.5"/><circle cx="498.4" cy="1074.5" r="4.5"/><circle cx="500.5" cy="1075.2" r="4.5"/><circle cx="501.9" cy="1076.1" r="4.5"/><circle cx="503.0" cy="1076.5" r="4.5"/><circle cx="504.2" cy="1077.5" r="4.5"/><circle cx="503.9" cy="1077.8" r="4.5"/><circle cx="505.4" cy="1078.4" r="4.5"/><circle cx="507.1" cy="1079.0" r="4.5"/><circle cx="507.2" cy="1078.7" r="4.5"/><circle cx="509.4" cy="1080.2" r="4.5"/><circle cx="510.5" cy="1079.1" r="4.5"/><circle cx="511.4" cy="1079.7" r="4.5"/><circle cx="512.4" cy="1081.5" r="4.5"/><circle cx="512.8" cy="1082.2" r="4.5"/><circle cx="514.9" cy="1081.5" r="4.5"/><circle cx="515.1" cy="1082.4" r="4.5"/><circle cx="517.4" cy="1083.1" r="4.5"/><circle cx="517.2" cy="1082.6" r="4.5"/><circle cx="518.3" cy="1084.5" r="4.5"/><circle cx="519.6" cy="1084.6" r="4.5"/><circle cx="520.9" cy="1085.4" r="4.5"/><circle cx="522.2" cy="1084.9" r="4.5"/><circle cx="524.2" cy="1086.1" r="4.5"/><circle cx="524.9" cy="1087.1" r="4.5"/><circle cx="526.5" cy="1086.2" r="4.5"/><circle cx="526.5" cy="1087.0" r="4.5"/><circle cx="527.9" cy="1088.8" r="4.5"/><circle cx="529.6" cy="1087.8" r="4.5"/><circle cx="529.6" cy="1089.7" r="4.5"/><circle cx="531.6" cy="1089.4" r="4.5"/><circle cx="532.4" cy="1089.5" r="4.5"/><circle cx="534.1" cy="1090.5" r="4.5"/><circle cx="535.3" cy="1091.4" r="4.5"/><circle cx="535.0" cy="1091.4" r="4.5"/><circle cx="536.3" cy="1092.9" r="4.5"/><circle cx="538.1" cy="1091.9" r="4.5"/><circle cx="538.5" cy="1093.0" r="4.5"/><circle cx="540.1" cy="1093.9" r="4.5"/><circle cx="541.1" cy="1094.0" r="4.5"/><circle cx="541.5" cy="1094.9" r="4.5"/><circle cx="543.2" cy="1094.4" r="4.5"/><circle cx="544.6" cy="1096.6" r="4.5"/><circle cx="545.0" cy="1095.6" r="4.5"/><circle cx="547.2" cy="1096.4" r="4.5"/><circle cx="547.6" cy="1097.3" r="4.5"/><circle cx="548.7" cy="1097.9" r="4.5"/><circle cx="550.3" cy="1099.2" r="4.5"/><circle cx="552.2" cy="1098.0" r="4.5"/><circle cx="552.5" cy="1099.9" r="4.5"/><circle cx="554.2" cy="1100.4" r="4.5"/><circle cx="554.8" cy="1100.7" r="4.5"/><circle cx="555.5" cy="1100.5" r="4.5"/><circle cx="557.3" cy="1102.1" r="4.5"/><circle cx="558.7" cy="1102.3" r="4.5"/><circle cx="558.6" cy="1103.0" r="4.5"/><circle cx="560.5" cy="1103.0" r="4.5"/><circle cx="561.4" cy="1103.3" r="4.5"/><circle cx="562.4" cy="1103.9" r="4.5"/><circle cx="562.6" cy="1104.3" r="4.5"/><circle cx="564.2" cy="1106.0" r="4.5"/><circle cx="565.6" cy="1105.4" r="4.5"/><circle cx="566.2" cy="1105.7" r="4.5"/><circle cx="567.5" cy="1106.0" r="4.5"/><circle cx="568.0" cy="1107.8" r="4.5"/><circle cx="569.9" cy="1107.6" r="4.5"/><circle cx="571.2" cy="1107.9" r="4.5"/><circle cx="571.6" cy="1108.0" r="4.5"/><circle cx="573.0" cy="1108.9" r="4.5"/><circle cx="574.9" cy="1109.9" r="4.5"/><circle cx="576.4" cy="1110.0" r="4.5"/><circle cx="577.5" cy="1111.0" r="4.5"/><circle cx="577.1" cy="1110.8" r="4.5"/><circle cx="579.1" cy="1112.7" r="4.5"/><circle cx="579.8" cy="1112.9" r="4.5"/><circle cx="581.0" cy="1113.6" r="4.5"/><circle cx="581.5" cy="1113.4" r="4.5"/><circle cx="584.1" cy="1113.5" r="4.5"/><circle cx="584.1" cy="1113.6" r="4.5"/><circle cx="585.0" cy="1114.6" r="4.5"/><circle cx="587.1" cy="1115.0" r="4.5"/><circle cx="587.7" cy="1115.5" r="4.5"/><circle cx="589.1" cy="1117.2" r="4.5"/><circle cx="590.3" cy="1116.5" r="4.5"/><circle cx="591.6" cy="1118.4" r="4.5"/><circle cx="592.5" cy="1117.3" r="4.5"/><circle cx="594.0" cy="1119.3" r="4.5"/><circle cx="594.3" cy="1118.5" r="4.5"/><circle cx="595.1" cy="1119.7" r="4.5"/><circle cx="597.4" cy="1120.4" r="4.5"/><circle cx="598.6" cy="1120.2" r="4.5"/><circle cx="598.7" cy="1121.6" r="4.5"/><circle cx="600.4" cy="1121.5" r="4.5"/><circle cx="601.6" cy="1121.9" r="4.5"/><circle cx="601.6" cy="1122.5" r="4.5"/><circle cx="602.7" cy="1123.4" r="4.5"/><circle cx="604.3" cy="1123.6" r="4.5"/><circle cx="605.9" cy="1123.7" r="4.5"/><circle cx="606.8" cy="1123.7" r="4.5"/><circle cx="608.7" cy="1125.2" r="4.5"/><circle cx="609.9" cy="1124.7" r="4.5"/><circle cx="610.4" cy="1126.4" r="4.5"/><circle cx="611.0" cy="1125.8" r="4.5"/><circle cx="611.8" cy="1126.3" r="4.5"/><circle cx="614.0" cy="1126.7" r="4.5"/><circle cx="615.2" cy="1127.8" r="4.5"/><circle cx="615.8" cy="1128.6" r="4.5"/><circle cx="617.0" cy="1129.2" r="4.5"/><circle cx="618.2" cy="1129.1" r="4.5"/><circle cx="619.6" cy="1129.4" r="4.5"/><circle cx="620.6" cy="1130.8" r="4.5"/><circle cx="621.9" cy="1130.5" r="4.5"/><circle cx="623.0" cy="1132.2" r="4.5"/><circle cx="623.5" cy="1131.4" r="4.5"/><circle cx="624.8" cy="1133.1" r="4.5"/><circle cx="625.2" cy="1131.9" r="4.5"/><circle cx="626.9" cy="1133.5" r="4.5"/><circle cx="628.6" cy="1133.5" r="4.5"/><circle cx="630.1" cy="1133.7" r="4.5"/><circle cx="630.8" cy="1133.9" r="4.5"/><circle cx="630.6" cy="1134.5" r="4.5"/><circle cx="631.8" cy="1135.7" r="4.5"/><circle cx="633.8" cy="1135.6" r="4.5"/><circle cx="635.6" cy="1136.4" r="4.5"/><circle cx="635.3" cy="1136.5" r="4.5"/><circle cx="637.5" cy="1138.3" r="4.5"/><circle cx="637.5" cy="1137.2" r="4.5"/><circle cx="639.8" cy="1138.1" r="4.5"/><circle cx="641.2" cy="1139.0" r="4.5"/><circle cx="641.7" cy="1139.2" r="4.5"/></g>
<g fill="#f24646"><circle cx="364" cy="1135.5" r="3.4"/><circle cx="364" cy="1121.3" r="3.6"/><circle cx="364.5" cy="1109.7" r="3.8"/><circle cx="365" cy="1102.3" r="4"/><circle cx="365.5" cy="1095" r="4.2"/></g>
<line x1="111.5" y1="801" x2="321.5" y2="901.2" stroke="#2216c4" stroke-width="2.8" stroke-dasharray="12.5 12"/>
<line x1="176.25" y1="929" x2="800" y2="1210.7" stroke="#2216c4" stroke-width="2.8" stroke-dasharray="12.5 12"/>
<line x1="238.40" y1="862.50" x2="238.40" y2="951.00" stroke="#111" stroke-width="2.3" />
<line x1="225.50" y1="862.80" x2="250.00" y2="862.80" stroke="#111" stroke-width="2.3" />
<line x1="228.00" y1="951.00" x2="252.00" y2="951.00" stroke="#111" stroke-width="2.3" />
<text transform="translate(241.05,932.20) scale(1.0189,1)" font-size="26" fill="#111" stroke="#111" stroke-width="0.3">-0.36 C</text>
<text transform="translate(266.87,767.65) scale(1.0627,1)" font-size="25.5" fill="#111" stroke="#111" stroke-width="0.3">Stop in</text>
<text transform="translate(267.57,799.80) scale(1.0434,1)" font-size="25.5" fill="#111" stroke="#111" stroke-width="0.3">reduced state</text>
<line x1="262.30" y1="787.40" x2="226.89" y2="832.64" stroke="#111" stroke-width="2.3" stroke-linecap="round"/>
<polygon points="219.80,841.70 224.58,828.30 227.20,832.25 231.66,833.84" fill="#111"/>
<path d="M523.5,824.5 L523.5,760.9 L691.4,760.9 L691.4,824.5" fill="none" stroke="#333" stroke-width="1.3"/>
<circle cx="553.8" cy="778.1" r="3.3" fill="#575757"/>
<circle cx="553.8" cy="807.9" r="3.3" fill="#f24646"/>
<text transform="translate(579.88,785.70) scale(1.0512,1)" font-size="23" fill="#111" stroke="#111" stroke-width="0.3">Reduction</text>
<text transform="translate(580.68,815.60) scale(1.0386,1)" font-size="23" fill="#111" stroke="#111" stroke-width="0.3">Oxidation</text>
</svg>
</body></html>
